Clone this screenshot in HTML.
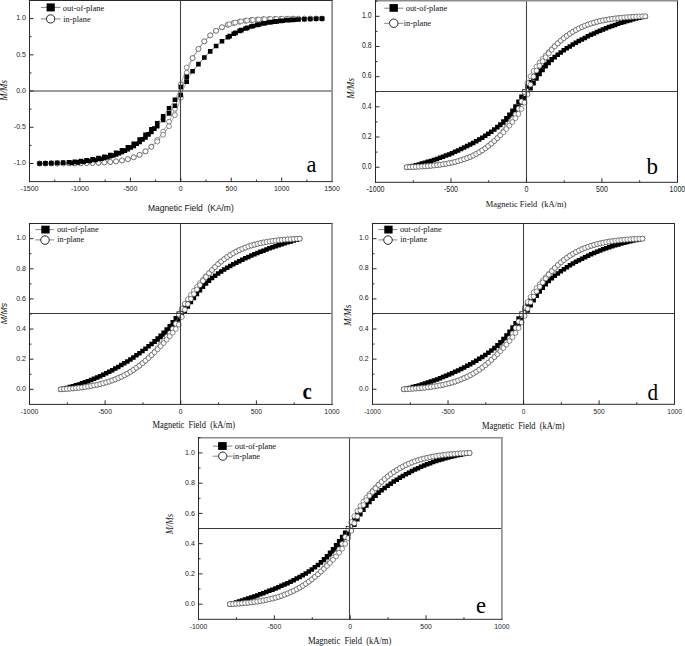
<!DOCTYPE html>
<html><head><meta charset="utf-8"><style>
html,body{margin:0;padding:0;background:#fff;}
svg{display:block;}
</style></head><body>
<svg width="685" height="646" viewBox="0 0 685 646">
<rect width="685" height="646" fill="#fff"/>
<polyline points="39.59,163.49 45.47,163.48 51.35,163.47 57.24,163.45 63.12,163.43 69.01,163.39 74.89,163.34 80.77,163.27 86.66,163.16 92.54,163.01 98.43,162.79 104.31,162.47 110.19,162.02 116.08,161.38 121.96,160.46 127.85,159.17 133.73,157.34 139.61,154.82 145.5,151.36 151.38,146.64 157.26,139.91 163.15,131.64 169.03,121.71 174.92,108.85 180.8,84.39 186.68,67.48 192.57,58.15 198.45,48.94 204.34,41.38 210.22,35.36 216.1,30.74 221.99,27.28 227.87,24.76 233.76,22.93 239.64,21.64 245.52,20.72 251.41,20.08 257.29,19.63 263.17,19.31 269.06,19.09 274.94,18.94 280.83,18.83 286.71,18.76 292.59,18.71 298.48,18.67 304.36,18.65 310.25,18.63 316.13,18.62 322.01,18.61" fill="none" stroke="#777" stroke-width="0.6"/>
<polyline points="39.59,163.49 45.47,163.48 51.35,163.47 57.24,163.45 63.12,163.43 69.01,163.39 74.89,163.34 80.77,163.27 86.66,163.16 92.54,163.01 98.43,162.79 104.31,162.47 110.19,162.02 116.08,161.38 121.96,160.46 127.85,159.17 133.73,157.34 139.61,154.82 145.5,151.36 151.38,146.84 157.26,141.53 163.15,134.68 169.03,126.19 174.92,115.07 180.8,97.71 186.68,72.8 192.57,58.15 198.45,48.94 204.34,41.38 210.22,35.36 216.1,30.74 221.99,27.28 227.87,24.76 233.76,22.93 239.64,21.64 245.52,20.72 251.41,20.08 257.29,19.63 263.17,19.31 269.06,19.09 274.94,18.94 280.83,18.83 286.71,18.76 292.59,18.71 298.48,18.67 304.36,18.65 310.25,18.63 316.13,18.62 322.01,18.61" fill="none" stroke="#777" stroke-width="0.6"/>
<polyline points="229.34,24.24 235.23,22.57 241.11,21.38 246.99,20.54 252.88,19.95 258.76,19.54 264.65,19.25 270.53,19.05 276.41,18.91 282.3,18.81 288.18,18.74 294.06,18.7" fill="none" stroke="#777" stroke-width="0.6"/>
<g fill="#fff" stroke="#4a4a4a" stroke-width="0.62"><circle cx="39.59" cy="163.49" r="2.45"/><circle cx="45.47" cy="163.48" r="2.45"/><circle cx="51.35" cy="163.47" r="2.45"/><circle cx="57.24" cy="163.45" r="2.45"/><circle cx="63.12" cy="163.43" r="2.45"/><circle cx="69.01" cy="163.39" r="2.45"/><circle cx="74.89" cy="163.34" r="2.45"/><circle cx="80.77" cy="163.27" r="2.45"/><circle cx="86.66" cy="163.16" r="2.45"/><circle cx="92.54" cy="163.01" r="2.45"/><circle cx="98.43" cy="162.79" r="2.45"/><circle cx="104.31" cy="162.47" r="2.45"/><circle cx="110.19" cy="162.02" r="2.45"/><circle cx="116.08" cy="161.38" r="2.45"/><circle cx="121.96" cy="160.46" r="2.45"/><circle cx="127.85" cy="159.17" r="2.45"/><circle cx="133.73" cy="157.34" r="2.45"/><circle cx="139.61" cy="154.82" r="2.45"/><circle cx="145.5" cy="151.36" r="2.45"/><circle cx="151.38" cy="146.64" r="2.45"/><circle cx="157.26" cy="139.91" r="2.45"/><circle cx="163.15" cy="131.64" r="2.45"/><circle cx="169.03" cy="121.71" r="2.45"/><circle cx="174.92" cy="108.85" r="2.45"/><circle cx="180.8" cy="84.39" r="2.45"/><circle cx="186.68" cy="67.48" r="2.45"/><circle cx="192.57" cy="58.15" r="2.45"/><circle cx="198.45" cy="48.94" r="2.45"/><circle cx="204.34" cy="41.38" r="2.45"/><circle cx="210.22" cy="35.36" r="2.45"/><circle cx="216.1" cy="30.74" r="2.45"/><circle cx="221.99" cy="27.28" r="2.45"/><circle cx="227.87" cy="24.76" r="2.45"/><circle cx="233.76" cy="22.93" r="2.45"/><circle cx="239.64" cy="21.64" r="2.45"/><circle cx="245.52" cy="20.72" r="2.45"/><circle cx="251.41" cy="20.08" r="2.45"/><circle cx="257.29" cy="19.63" r="2.45"/><circle cx="263.17" cy="19.31" r="2.45"/><circle cx="269.06" cy="19.09" r="2.45"/><circle cx="274.94" cy="18.94" r="2.45"/><circle cx="280.83" cy="18.83" r="2.45"/><circle cx="286.71" cy="18.76" r="2.45"/><circle cx="292.59" cy="18.71" r="2.45"/><circle cx="298.48" cy="18.67" r="2.45"/><circle cx="304.36" cy="18.65" r="2.45"/><circle cx="310.25" cy="18.63" r="2.45"/><circle cx="316.13" cy="18.62" r="2.45"/><circle cx="322.01" cy="18.61" r="2.45"/><circle cx="39.59" cy="163.49" r="2.45"/><circle cx="45.47" cy="163.48" r="2.45"/><circle cx="51.35" cy="163.47" r="2.45"/><circle cx="57.24" cy="163.45" r="2.45"/><circle cx="63.12" cy="163.43" r="2.45"/><circle cx="69.01" cy="163.39" r="2.45"/><circle cx="74.89" cy="163.34" r="2.45"/><circle cx="80.77" cy="163.27" r="2.45"/><circle cx="86.66" cy="163.16" r="2.45"/><circle cx="92.54" cy="163.01" r="2.45"/><circle cx="98.43" cy="162.79" r="2.45"/><circle cx="104.31" cy="162.47" r="2.45"/><circle cx="110.19" cy="162.02" r="2.45"/><circle cx="116.08" cy="161.38" r="2.45"/><circle cx="121.96" cy="160.46" r="2.45"/><circle cx="127.85" cy="159.17" r="2.45"/><circle cx="133.73" cy="157.34" r="2.45"/><circle cx="139.61" cy="154.82" r="2.45"/><circle cx="145.5" cy="151.36" r="2.45"/><circle cx="151.38" cy="146.84" r="2.45"/><circle cx="157.26" cy="141.53" r="2.45"/><circle cx="163.15" cy="134.68" r="2.45"/><circle cx="169.03" cy="126.19" r="2.45"/><circle cx="174.92" cy="115.07" r="2.45"/><circle cx="180.8" cy="97.71" r="2.45"/><circle cx="186.68" cy="72.8" r="2.45"/><circle cx="192.57" cy="58.15" r="2.45"/><circle cx="198.45" cy="48.94" r="2.45"/><circle cx="204.34" cy="41.38" r="2.45"/><circle cx="210.22" cy="35.36" r="2.45"/><circle cx="216.1" cy="30.74" r="2.45"/><circle cx="221.99" cy="27.28" r="2.45"/><circle cx="227.87" cy="24.76" r="2.45"/><circle cx="233.76" cy="22.93" r="2.45"/><circle cx="239.64" cy="21.64" r="2.45"/><circle cx="245.52" cy="20.72" r="2.45"/><circle cx="251.41" cy="20.08" r="2.45"/><circle cx="257.29" cy="19.63" r="2.45"/><circle cx="263.17" cy="19.31" r="2.45"/><circle cx="269.06" cy="19.09" r="2.45"/><circle cx="274.94" cy="18.94" r="2.45"/><circle cx="280.83" cy="18.83" r="2.45"/><circle cx="286.71" cy="18.76" r="2.45"/><circle cx="292.59" cy="18.71" r="2.45"/><circle cx="298.48" cy="18.67" r="2.45"/><circle cx="304.36" cy="18.65" r="2.45"/><circle cx="310.25" cy="18.63" r="2.45"/><circle cx="316.13" cy="18.62" r="2.45"/><circle cx="322.01" cy="18.61" r="2.45"/><circle cx="229.34" cy="24.24" r="2.45"/><circle cx="235.23" cy="22.57" r="2.45"/><circle cx="241.11" cy="21.38" r="2.45"/><circle cx="246.99" cy="20.54" r="2.45"/><circle cx="252.88" cy="19.95" r="2.45"/><circle cx="258.76" cy="19.54" r="2.45"/><circle cx="264.65" cy="19.25" r="2.45"/><circle cx="270.53" cy="19.05" r="2.45"/><circle cx="276.41" cy="18.91" r="2.45"/><circle cx="282.3" cy="18.81" r="2.45"/><circle cx="288.18" cy="18.74" r="2.45"/><circle cx="294.06" cy="18.7" r="2.45"/></g>
<polyline points="39.59,163.49 45.47,163.34 51.35,163.15 57.24,162.92 63.12,162.62 69.01,162.25 74.89,161.8 80.77,161.12 86.66,160.3 92.54,159.32 98.43,158.13 104.31,156.69 110.19,154.95 116.08,152.85 121.96,150.33 127.85,147.32 133.73,143.78 139.61,139.62 145.5,134.82 151.38,129.35 157.26,123.21 163.15,116.2 169.03,108.27 174.92,99.74 180.8,87.07 186.68,76.86 192.57,71.26 198.45,64.08 204.34,57.43 210.22,51.39 216.1,46.02 221.99,41.31 227.87,37.26 233.76,33.81 239.64,30.91 245.52,28.5 251.41,26.51 257.29,24.87 263.17,23.54 269.06,22.46 274.94,21.58 280.83,20.87 286.71,20.3 292.59,19.85 298.48,19.48 304.36,19.18 310.25,18.95 316.13,18.76 322.01,18.61" fill="none" stroke="#777" stroke-width="0.6"/>
<polyline points="39.59,163.49 45.47,163.34 51.35,163.15 57.24,162.92 63.12,162.62 69.01,162.25 74.89,161.8 80.77,161.33 86.66,160.73 92.54,159.97 98.43,158.99 104.31,157.76 110.19,156.24 116.08,154.35 121.96,152.05 127.85,149.26 133.73,145.91 139.61,141.95 145.5,137.34 151.38,132.06 157.26,126.13 163.15,119.85 169.03,113.41 174.92,105.82 180.8,95.03 186.68,81.78 192.57,71.26 198.45,64.08 204.34,57.43 210.22,51.39 216.1,46.02 221.99,41.31 227.87,37.26 233.76,33.81 239.64,30.91 245.52,28.5 251.41,26.51 257.29,24.87 263.17,23.54 269.06,22.46 274.94,21.58 280.83,20.87 286.71,20.3 292.59,19.85 298.48,19.48 304.36,19.18 310.25,18.95 316.13,18.76 322.01,18.61" fill="none" stroke="#777" stroke-width="0.6"/>
<polyline points="71.95,162.91 77.83,162.4 83.72,161.76 89.6,160.97 95.48,160 101.37,158.8 107.25,157.32 113.14,155.51 119.02,153.32 124.9,150.67 130.79,147.51 136.67,143.76 142.55,139.39 148.44,134.35 154.32,128.64" fill="none" stroke="#777" stroke-width="0.6"/>
<polyline points="229.64,36.16 235.52,32.88 241.4,30.14 247.29,27.86 253.17,25.98 259.06,24.44 264.94,23.19 270.82,22.17 276.71,21.35 282.59,20.69 288.48,20.16 294.36,19.73" fill="none" stroke="#777" stroke-width="0.6"/>
<path d="M37.29 161.19h4.6v4.6h-4.6zM43.17 161.04h4.6v4.6h-4.6zM49.05 160.85h4.6v4.6h-4.6zM54.94 160.62h4.6v4.6h-4.6zM60.82 160.32h4.6v4.6h-4.6zM66.71 159.95h4.6v4.6h-4.6zM72.59 159.5h4.6v4.6h-4.6zM78.47 158.82h4.6v4.6h-4.6zM84.36 158h4.6v4.6h-4.6zM90.24 157.02h4.6v4.6h-4.6zM96.13 155.83h4.6v4.6h-4.6zM102.01 154.39h4.6v4.6h-4.6zM107.89 152.65h4.6v4.6h-4.6zM113.78 150.55h4.6v4.6h-4.6zM119.66 148.03h4.6v4.6h-4.6zM125.55 145.02h4.6v4.6h-4.6zM131.43 141.48h4.6v4.6h-4.6zM137.31 137.32h4.6v4.6h-4.6zM143.2 132.52h4.6v4.6h-4.6zM149.08 127.05h4.6v4.6h-4.6zM154.96 120.91h4.6v4.6h-4.6zM160.85 113.9h4.6v4.6h-4.6zM166.73 105.97h4.6v4.6h-4.6zM172.62 97.44h4.6v4.6h-4.6zM178.5 84.77h4.6v4.6h-4.6zM184.38 74.56h4.6v4.6h-4.6zM190.27 68.96h4.6v4.6h-4.6zM196.15 61.78h4.6v4.6h-4.6zM202.04 55.13h4.6v4.6h-4.6zM207.92 49.09h4.6v4.6h-4.6zM213.8 43.72h4.6v4.6h-4.6zM219.69 39.01h4.6v4.6h-4.6zM225.57 34.96h4.6v4.6h-4.6zM231.46 31.51h4.6v4.6h-4.6zM237.34 28.61h4.6v4.6h-4.6zM243.22 26.2h4.6v4.6h-4.6zM249.11 24.21h4.6v4.6h-4.6zM254.99 22.57h4.6v4.6h-4.6zM260.87 21.24h4.6v4.6h-4.6zM266.76 20.16h4.6v4.6h-4.6zM272.64 19.28h4.6v4.6h-4.6zM278.53 18.57h4.6v4.6h-4.6zM284.41 18h4.6v4.6h-4.6zM290.29 17.55h4.6v4.6h-4.6zM296.18 17.18h4.6v4.6h-4.6zM302.06 16.88h4.6v4.6h-4.6zM307.95 16.65h4.6v4.6h-4.6zM313.83 16.46h4.6v4.6h-4.6zM319.71 16.31h4.6v4.6h-4.6zM37.29 161.19h4.6v4.6h-4.6zM43.17 161.04h4.6v4.6h-4.6zM49.05 160.85h4.6v4.6h-4.6zM54.94 160.62h4.6v4.6h-4.6zM60.82 160.32h4.6v4.6h-4.6zM66.71 159.95h4.6v4.6h-4.6zM72.59 159.5h4.6v4.6h-4.6zM78.47 159.03h4.6v4.6h-4.6zM84.36 158.43h4.6v4.6h-4.6zM90.24 157.67h4.6v4.6h-4.6zM96.13 156.69h4.6v4.6h-4.6zM102.01 155.46h4.6v4.6h-4.6zM107.89 153.94h4.6v4.6h-4.6zM113.78 152.05h4.6v4.6h-4.6zM119.66 149.75h4.6v4.6h-4.6zM125.55 146.96h4.6v4.6h-4.6zM131.43 143.61h4.6v4.6h-4.6zM137.31 139.65h4.6v4.6h-4.6zM143.2 135.04h4.6v4.6h-4.6zM149.08 129.76h4.6v4.6h-4.6zM154.96 123.83h4.6v4.6h-4.6zM160.85 117.55h4.6v4.6h-4.6zM166.73 111.11h4.6v4.6h-4.6zM172.62 103.52h4.6v4.6h-4.6zM178.5 92.73h4.6v4.6h-4.6zM184.38 79.48h4.6v4.6h-4.6zM190.27 68.96h4.6v4.6h-4.6zM196.15 61.78h4.6v4.6h-4.6zM202.04 55.13h4.6v4.6h-4.6zM207.92 49.09h4.6v4.6h-4.6zM213.8 43.72h4.6v4.6h-4.6zM219.69 39.01h4.6v4.6h-4.6zM225.57 34.96h4.6v4.6h-4.6zM231.46 31.51h4.6v4.6h-4.6zM237.34 28.61h4.6v4.6h-4.6zM243.22 26.2h4.6v4.6h-4.6zM249.11 24.21h4.6v4.6h-4.6zM254.99 22.57h4.6v4.6h-4.6zM260.87 21.24h4.6v4.6h-4.6zM266.76 20.16h4.6v4.6h-4.6zM272.64 19.28h4.6v4.6h-4.6zM278.53 18.57h4.6v4.6h-4.6zM284.41 18h4.6v4.6h-4.6zM290.29 17.55h4.6v4.6h-4.6zM296.18 17.18h4.6v4.6h-4.6zM302.06 16.88h4.6v4.6h-4.6zM307.95 16.65h4.6v4.6h-4.6zM313.83 16.46h4.6v4.6h-4.6zM319.71 16.31h4.6v4.6h-4.6zM69.65 160.61h4.6v4.6h-4.6zM75.53 160.1h4.6v4.6h-4.6zM81.42 159.46h4.6v4.6h-4.6zM87.3 158.67h4.6v4.6h-4.6zM93.18 157.7h4.6v4.6h-4.6zM99.07 156.5h4.6v4.6h-4.6zM104.95 155.02h4.6v4.6h-4.6zM110.84 153.21h4.6v4.6h-4.6zM116.72 151.02h4.6v4.6h-4.6zM122.6 148.37h4.6v4.6h-4.6zM128.49 145.21h4.6v4.6h-4.6zM134.37 141.46h4.6v4.6h-4.6zM140.25 137.09h4.6v4.6h-4.6zM146.14 132.05h4.6v4.6h-4.6zM152.02 126.34h4.6v4.6h-4.6zM227.34 33.86h4.6v4.6h-4.6zM233.22 30.58h4.6v4.6h-4.6zM239.1 27.84h4.6v4.6h-4.6zM244.99 25.56h4.6v4.6h-4.6zM250.87 23.68h4.6v4.6h-4.6zM256.76 22.14h4.6v4.6h-4.6zM262.64 20.89h4.6v4.6h-4.6zM268.52 19.87h4.6v4.6h-4.6zM274.41 19.05h4.6v4.6h-4.6zM280.29 18.39h4.6v4.6h-4.6zM286.18 17.86h4.6v4.6h-4.6zM292.06 17.43h4.6v4.6h-4.6z" fill="#000"/>
<line x1="29.5" y1="91" x2="332.1" y2="91" stroke="#3a3a3a" stroke-width="1"/>
<line x1="180.5" y1="0.5" x2="180.5" y2="181.6" stroke="#444" stroke-width="1.1"/>
<line x1="28.9" y1="0.5" x2="332.95" y2="0.5" stroke="#2a2a2a" stroke-width="1.0"/>
<line x1="332.1" y1="0.5" x2="332.1" y2="181.6" stroke="#8c8c8c" stroke-width="1.7"/>
<line x1="29.5" y1="0" x2="29.5" y2="182.1" stroke="#2a2a2a" stroke-width="1.0"/>
<line x1="29" y1="181.6" x2="332.95" y2="181.6" stroke="#2a2a2a" stroke-width="1.0"/>
<text x="0" y="0" text-anchor="middle" font-family='"Liberation Sans", sans-serif' font-size="7.8" fill="#222" transform="translate(29.5 190.99) scale(0.9 1)">-1500</text>
<text x="0" y="0" text-anchor="middle" font-family='"Liberation Sans", sans-serif' font-size="7.8" fill="#222" transform="translate(79.93 190.99) scale(0.9 1)">-1000</text>
<text x="0" y="0" text-anchor="middle" font-family='"Liberation Sans", sans-serif' font-size="7.8" fill="#222" transform="translate(130.37 190.99) scale(0.9 1)">-500</text>
<text x="0" y="0" text-anchor="middle" font-family='"Liberation Sans", sans-serif' font-size="7.8" fill="#222" transform="translate(180.8 190.99) scale(0.9 1)">0</text>
<text x="0" y="0" text-anchor="middle" font-family='"Liberation Sans", sans-serif' font-size="7.8" fill="#222" transform="translate(231.23 190.99) scale(0.9 1)">500</text>
<text x="0" y="0" text-anchor="middle" font-family='"Liberation Sans", sans-serif' font-size="7.8" fill="#222" transform="translate(281.67 190.99) scale(0.9 1)">1000</text>
<text x="0" y="0" text-anchor="middle" font-family='"Liberation Sans", sans-serif' font-size="7.8" fill="#222" transform="translate(332.1 190.99) scale(0.9 1)">1500</text>
<text x="0" y="0" text-anchor="end" font-family='"Liberation Sans", sans-serif' font-size="7.4" fill="#222" transform="translate(25.9 165.24) scale(0.95 1)">-1.0</text>
<text x="0" y="0" text-anchor="end" font-family='"Liberation Sans", sans-serif' font-size="7.4" fill="#222" transform="translate(25.9 129.02) scale(0.95 1)">-0.5</text>
<text x="0" y="0" text-anchor="end" font-family='"Liberation Sans", sans-serif' font-size="7.4" fill="#222" transform="translate(25.9 92.8) scale(0.95 1)">0.0</text>
<text x="0" y="0" text-anchor="end" font-family='"Liberation Sans", sans-serif' font-size="7.4" fill="#222" transform="translate(25.9 56.58) scale(0.95 1)">0.5</text>
<text x="0" y="0" text-anchor="end" font-family='"Liberation Sans", sans-serif' font-size="7.4" fill="#222" transform="translate(25.9 20.36) scale(0.95 1)">1.0</text>
<path d="M54.72 181.6v-2M79.93 181.6v-4M105.15 181.6v-2M130.37 181.6v-4M155.58 181.6v-2M180.8 181.6v-4M206.02 181.6v-2M231.23 181.6v-4M256.45 181.6v-2M281.67 181.6v-4M306.88 181.6v-2M29.5 163.49h4M29.5 145.38h2M29.5 127.27h4M29.5 109.16h2M29.5 91.05h4M29.5 72.94h2M29.5 54.83h4M29.5 36.72h2M29.5 18.61h4" stroke="#2a2a2a" stroke-width="1" fill="none"/>
<path d="M40.9 7.4H60.6M40.9 18.9H60.6" stroke="#666" stroke-width="0.8"/>
<rect x="46.6" y="3.4" width="8.2" height="8" fill="#000"/>
<circle cx="50.6" cy="18.9" r="4.05" fill="#fff" stroke="#111" stroke-width="0.9"/>
<text x="62.8" y="10.5" font-family='"Liberation Serif", serif' font-size="8.5" fill="#111" textLength="41.5" lengthAdjust="spacingAndGlyphs">out-of-plane</text>
<text x="63.3" y="22.1" font-family='"Liberation Serif", serif' font-size="8.5" fill="#111" textLength="27.4" lengthAdjust="spacingAndGlyphs">in-plane</text>
<text x="148" y="210.7" font-family='"Liberation Sans", sans-serif' font-size="9.2" fill="#111" textLength="85.7" lengthAdjust="spacingAndGlyphs">Magnetic Field&#160;&#160;(KA/m)</text>
<text transform="translate(3.6 90.4) rotate(-90)" x="-10.4" y="0" dominant-baseline="central" font-family='"Liberation Serif", serif' font-style="italic" font-size="9.4" fill="#111" textLength="20.8" lengthAdjust="spacingAndGlyphs">M/Ms</text>
<text x="0" y="0" transform="translate(306.5 171.9) scale(1 1)" font-family='"Liberation Serif", serif' font-size="22.5"  fill="#000">a</text>
<polyline points="406.75,167.21 409.77,166.64 412.78,165.94 415.8,165.2 418.82,164.42 421.84,163.61 424.86,162.76 427.88,161.87 430.9,160.94 433.92,159.96 436.94,158.94 439.96,157.87 442.97,156.76 445.99,155.6 449.01,154.39 452.03,153.14 455.05,151.83 458.07,150.47 461.09,149.06 464.11,147.6 467.13,146.09 470.15,144.51 473.16,142.89 476.18,141.2 479.2,139.45 482.22,137.63 485.24,135.73 488.26,133.75 491.28,131.68 494.3,129.49 497.32,127.1 500.34,124.41 503.35,121.48 506.37,118.26 509.39,114.7 512.41,110.76 515.43,106.42 518.45,101.7 521.47,96.68 524.49,91.5 527.51,86.58 530.53,82.26 533.54,78.15 536.56,74.31 539.58,70.76 542.6,67.51 545.62,64.54 548.64,61.81 551.66,59.29 554.68,56.95 557.7,54.69 560.72,52.47 563.73,50.36 566.75,48.35 569.77,46.43 572.79,44.59 575.81,42.82 578.83,41.11 581.85,39.47 584.87,37.88 587.89,36.35 590.91,34.87 593.92,33.44 596.94,32.07 599.96,30.75 602.98,29.48 606,28.26 609.02,27.08 612.04,25.96 615.06,24.88 618.08,23.84 621.1,22.85 624.11,21.91 627.13,21 630.15,20.14 633.17,19.32 636.19,18.53 639.21,17.78 642.23,17.07 645.25,16.39" fill="none" stroke="#777" stroke-width="0.6"/>
<polyline points="406.75,167.21 409.77,166.64 412.78,165.94 415.8,165.2 418.82,164.42 421.84,163.61 424.86,162.76 427.88,161.87 430.9,160.94 433.92,159.96 436.94,158.94 439.96,157.87 442.97,156.76 445.99,155.6 449.01,154.39 452.03,153.14 455.05,151.83 458.07,150.47 461.09,149.06 464.11,147.6 467.13,146.09 470.15,144.51 473.16,142.89 476.18,141.2 479.2,139.45 482.22,137.63 485.24,135.73 488.26,133.75 491.28,131.68 494.3,129.49 497.32,127.22 500.34,124.93 503.35,122.47 506.37,119.8 509.39,116.91 512.41,113.74 515.43,110.29 518.45,106.54 521.47,102.5 524.49,98.23 527.51,93.56 530.53,88.36 533.54,83.28 536.56,78.46 539.58,74 542.6,69.94 545.62,66.27 548.64,62.96 551.66,59.95 554.68,57.19 557.7,54.69 560.72,52.47 563.73,50.36 566.75,48.35 569.77,46.43 572.79,44.59 575.81,42.82 578.83,41.11 581.85,39.47 584.87,37.88 587.89,36.35 590.91,34.87 593.92,33.44 596.94,32.07 599.96,30.75 602.98,29.48 606,28.26 609.02,27.08 612.04,25.96 615.06,24.88 618.08,23.84 621.1,22.85 624.11,21.91 627.13,21 630.15,20.14 633.17,19.32 636.19,18.53 639.21,17.78 642.23,17.07 645.25,16.39" fill="none" stroke="#777" stroke-width="0.6"/>
<path d="M404.5 164.96h4.5v4.5h-4.5zM407.52 164.39h4.5v4.5h-4.5zM410.53 163.69h4.5v4.5h-4.5zM413.55 162.95h4.5v4.5h-4.5zM416.57 162.17h4.5v4.5h-4.5zM419.59 161.36h4.5v4.5h-4.5zM422.61 160.51h4.5v4.5h-4.5zM425.63 159.62h4.5v4.5h-4.5zM428.65 158.69h4.5v4.5h-4.5zM431.67 157.71h4.5v4.5h-4.5zM434.69 156.69h4.5v4.5h-4.5zM437.71 155.62h4.5v4.5h-4.5zM440.72 154.51h4.5v4.5h-4.5zM443.74 153.35h4.5v4.5h-4.5zM446.76 152.14h4.5v4.5h-4.5zM449.78 150.89h4.5v4.5h-4.5zM452.8 149.58h4.5v4.5h-4.5zM455.82 148.22h4.5v4.5h-4.5zM458.84 146.81h4.5v4.5h-4.5zM461.86 145.35h4.5v4.5h-4.5zM464.88 143.84h4.5v4.5h-4.5zM467.9 142.26h4.5v4.5h-4.5zM470.91 140.64h4.5v4.5h-4.5zM473.93 138.95h4.5v4.5h-4.5zM476.95 137.2h4.5v4.5h-4.5zM479.97 135.38h4.5v4.5h-4.5zM482.99 133.48h4.5v4.5h-4.5zM486.01 131.5h4.5v4.5h-4.5zM489.03 129.43h4.5v4.5h-4.5zM492.05 127.24h4.5v4.5h-4.5zM495.07 124.85h4.5v4.5h-4.5zM498.09 122.16h4.5v4.5h-4.5zM501.1 119.23h4.5v4.5h-4.5zM504.12 116.01h4.5v4.5h-4.5zM507.14 112.45h4.5v4.5h-4.5zM510.16 108.51h4.5v4.5h-4.5zM513.18 104.17h4.5v4.5h-4.5zM516.2 99.45h4.5v4.5h-4.5zM519.22 94.43h4.5v4.5h-4.5zM522.24 89.25h4.5v4.5h-4.5zM525.26 84.33h4.5v4.5h-4.5zM528.28 80.01h4.5v4.5h-4.5zM531.29 75.9h4.5v4.5h-4.5zM534.31 72.06h4.5v4.5h-4.5zM537.33 68.51h4.5v4.5h-4.5zM540.35 65.26h4.5v4.5h-4.5zM543.37 62.29h4.5v4.5h-4.5zM546.39 59.56h4.5v4.5h-4.5zM549.41 57.04h4.5v4.5h-4.5zM552.43 54.7h4.5v4.5h-4.5zM555.45 52.44h4.5v4.5h-4.5zM558.47 50.22h4.5v4.5h-4.5zM561.48 48.11h4.5v4.5h-4.5zM564.5 46.1h4.5v4.5h-4.5zM567.52 44.18h4.5v4.5h-4.5zM570.54 42.34h4.5v4.5h-4.5zM573.56 40.57h4.5v4.5h-4.5zM576.58 38.86h4.5v4.5h-4.5zM579.6 37.22h4.5v4.5h-4.5zM582.62 35.63h4.5v4.5h-4.5zM585.64 34.1h4.5v4.5h-4.5zM588.66 32.62h4.5v4.5h-4.5zM591.67 31.19h4.5v4.5h-4.5zM594.69 29.82h4.5v4.5h-4.5zM597.71 28.5h4.5v4.5h-4.5zM600.73 27.23h4.5v4.5h-4.5zM603.75 26.01h4.5v4.5h-4.5zM606.77 24.83h4.5v4.5h-4.5zM609.79 23.71h4.5v4.5h-4.5zM612.81 22.63h4.5v4.5h-4.5zM615.83 21.59h4.5v4.5h-4.5zM618.85 20.6h4.5v4.5h-4.5zM621.86 19.66h4.5v4.5h-4.5zM624.88 18.75h4.5v4.5h-4.5zM627.9 17.89h4.5v4.5h-4.5zM630.92 17.07h4.5v4.5h-4.5zM633.94 16.28h4.5v4.5h-4.5zM636.96 15.53h4.5v4.5h-4.5zM639.98 14.82h4.5v4.5h-4.5zM643 14.14h4.5v4.5h-4.5zM404.5 164.96h4.5v4.5h-4.5zM407.52 164.39h4.5v4.5h-4.5zM410.53 163.69h4.5v4.5h-4.5zM413.55 162.95h4.5v4.5h-4.5zM416.57 162.17h4.5v4.5h-4.5zM419.59 161.36h4.5v4.5h-4.5zM422.61 160.51h4.5v4.5h-4.5zM425.63 159.62h4.5v4.5h-4.5zM428.65 158.69h4.5v4.5h-4.5zM431.67 157.71h4.5v4.5h-4.5zM434.69 156.69h4.5v4.5h-4.5zM437.71 155.62h4.5v4.5h-4.5zM440.72 154.51h4.5v4.5h-4.5zM443.74 153.35h4.5v4.5h-4.5zM446.76 152.14h4.5v4.5h-4.5zM449.78 150.89h4.5v4.5h-4.5zM452.8 149.58h4.5v4.5h-4.5zM455.82 148.22h4.5v4.5h-4.5zM458.84 146.81h4.5v4.5h-4.5zM461.86 145.35h4.5v4.5h-4.5zM464.88 143.84h4.5v4.5h-4.5zM467.9 142.26h4.5v4.5h-4.5zM470.91 140.64h4.5v4.5h-4.5zM473.93 138.95h4.5v4.5h-4.5zM476.95 137.2h4.5v4.5h-4.5zM479.97 135.38h4.5v4.5h-4.5zM482.99 133.48h4.5v4.5h-4.5zM486.01 131.5h4.5v4.5h-4.5zM489.03 129.43h4.5v4.5h-4.5zM492.05 127.24h4.5v4.5h-4.5zM495.07 124.97h4.5v4.5h-4.5zM498.09 122.68h4.5v4.5h-4.5zM501.1 120.22h4.5v4.5h-4.5zM504.12 117.55h4.5v4.5h-4.5zM507.14 114.66h4.5v4.5h-4.5zM510.16 111.49h4.5v4.5h-4.5zM513.18 108.04h4.5v4.5h-4.5zM516.2 104.29h4.5v4.5h-4.5zM519.22 100.25h4.5v4.5h-4.5zM522.24 95.98h4.5v4.5h-4.5zM525.26 91.31h4.5v4.5h-4.5zM528.28 86.11h4.5v4.5h-4.5zM531.29 81.03h4.5v4.5h-4.5zM534.31 76.21h4.5v4.5h-4.5zM537.33 71.75h4.5v4.5h-4.5zM540.35 67.69h4.5v4.5h-4.5zM543.37 64.02h4.5v4.5h-4.5zM546.39 60.71h4.5v4.5h-4.5zM549.41 57.7h4.5v4.5h-4.5zM552.43 54.94h4.5v4.5h-4.5zM555.45 52.44h4.5v4.5h-4.5zM558.47 50.22h4.5v4.5h-4.5zM561.48 48.11h4.5v4.5h-4.5zM564.5 46.1h4.5v4.5h-4.5zM567.52 44.18h4.5v4.5h-4.5zM570.54 42.34h4.5v4.5h-4.5zM573.56 40.57h4.5v4.5h-4.5zM576.58 38.86h4.5v4.5h-4.5zM579.6 37.22h4.5v4.5h-4.5zM582.62 35.63h4.5v4.5h-4.5zM585.64 34.1h4.5v4.5h-4.5zM588.66 32.62h4.5v4.5h-4.5zM591.67 31.19h4.5v4.5h-4.5zM594.69 29.82h4.5v4.5h-4.5zM597.71 28.5h4.5v4.5h-4.5zM600.73 27.23h4.5v4.5h-4.5zM603.75 26.01h4.5v4.5h-4.5zM606.77 24.83h4.5v4.5h-4.5zM609.79 23.71h4.5v4.5h-4.5zM612.81 22.63h4.5v4.5h-4.5zM615.83 21.59h4.5v4.5h-4.5zM618.85 20.6h4.5v4.5h-4.5zM621.86 19.66h4.5v4.5h-4.5zM624.88 18.75h4.5v4.5h-4.5zM627.9 17.89h4.5v4.5h-4.5zM630.92 17.07h4.5v4.5h-4.5zM633.94 16.28h4.5v4.5h-4.5zM636.96 15.53h4.5v4.5h-4.5zM639.98 14.82h4.5v4.5h-4.5zM643 14.14h4.5v4.5h-4.5z" fill="#000"/>
<polyline points="406.75,167.21 409.77,167.11 412.78,166.99 415.8,166.84 418.82,166.68 421.84,166.49 424.86,166.28 427.88,166.05 430.9,165.78 433.92,165.47 436.94,165.13 439.96,164.74 442.97,164.3 445.99,163.81 449.01,163.25 452.03,162.62 455.05,161.91 458.07,161.12 461.09,160.23 464.11,159.23 467.13,158.11 470.15,156.87 473.16,155.49 476.18,153.95 479.2,152.26 482.22,150.38 485.24,148.33 488.26,146.08 491.28,143.63 494.3,140.97 497.32,138.03 500.34,134.74 503.35,131.22 506.37,127.46 509.39,123.46 512.41,119.17 515.43,114.44 518.45,108.81 521.47,101.47 524.49,92.14 527.51,83.07 530.53,76.29 533.54,70.98 536.56,66.56 539.58,62.62 542.6,58.95 545.62,55.48 548.64,52.2 551.66,49.09 554.68,46.17 557.7,43.37 560.72,40.65 563.73,38.14 566.75,35.83 569.77,33.71 572.79,31.79 575.81,30.04 578.83,28.46 581.85,27.03 584.87,25.74 587.89,24.59 590.91,23.56 593.92,22.64 596.94,21.82 599.96,21.08 602.98,20.43 606,19.85 609.02,19.34 612.04,18.88 615.06,18.48 618.08,18.12 621.1,17.81 624.11,17.53 627.13,17.28 630.15,17.07 633.17,16.87 636.19,16.7 639.21,16.56 642.23,16.42 645.25,16.31" fill="none" stroke="#777" stroke-width="0.6"/>
<polyline points="406.75,167.21 409.77,167.11 412.78,166.99 415.8,166.84 418.82,166.68 421.84,166.49 424.86,166.28 427.88,166.05 430.9,165.78 433.92,165.47 436.94,165.13 439.96,164.74 442.97,164.3 445.99,163.81 449.01,163.25 452.03,162.62 455.05,161.91 458.07,161.12 461.09,160.23 464.11,159.23 467.13,158.11 470.15,156.87 473.16,155.49 476.18,153.95 479.2,152.26 482.22,150.38 485.24,148.33 488.26,146.08 491.28,143.63 494.3,140.97 497.32,138.17 500.34,135.3 503.35,132.25 506.37,129.02 509.39,125.61 512.41,122.01 515.43,118.16 518.45,113.92 521.47,108.94 524.49,102.64 527.51,94.31 530.53,84.66 533.54,76.67 536.56,70.62 539.58,65.68 542.6,61.29 545.62,57.22 548.64,53.39 551.66,49.79 554.68,46.43 557.7,43.37 560.72,40.65 563.73,38.14 566.75,35.83 569.77,33.71 572.79,31.79 575.81,30.04 578.83,28.46 581.85,27.03 584.87,25.74 587.89,24.59 590.91,23.56 593.92,22.64 596.94,21.82 599.96,21.08 602.98,20.43 606,19.85 609.02,19.34 612.04,18.88 615.06,18.48 618.08,18.12 621.1,17.81 624.11,17.53 627.13,17.28 630.15,17.07 633.17,16.87 636.19,16.7 639.21,16.56 642.23,16.42 645.25,16.31" fill="none" stroke="#777" stroke-width="0.6"/>
<g fill="#fff" stroke="#4a4a4a" stroke-width="0.62"><circle cx="406.75" cy="167.21" r="2.45"/><circle cx="409.77" cy="167.11" r="2.45"/><circle cx="412.78" cy="166.99" r="2.45"/><circle cx="415.8" cy="166.84" r="2.45"/><circle cx="418.82" cy="166.68" r="2.45"/><circle cx="421.84" cy="166.49" r="2.45"/><circle cx="424.86" cy="166.28" r="2.45"/><circle cx="427.88" cy="166.05" r="2.45"/><circle cx="430.9" cy="165.78" r="2.45"/><circle cx="433.92" cy="165.47" r="2.45"/><circle cx="436.94" cy="165.13" r="2.45"/><circle cx="439.96" cy="164.74" r="2.45"/><circle cx="442.97" cy="164.3" r="2.45"/><circle cx="445.99" cy="163.81" r="2.45"/><circle cx="449.01" cy="163.25" r="2.45"/><circle cx="452.03" cy="162.62" r="2.45"/><circle cx="455.05" cy="161.91" r="2.45"/><circle cx="458.07" cy="161.12" r="2.45"/><circle cx="461.09" cy="160.23" r="2.45"/><circle cx="464.11" cy="159.23" r="2.45"/><circle cx="467.13" cy="158.11" r="2.45"/><circle cx="470.15" cy="156.87" r="2.45"/><circle cx="473.16" cy="155.49" r="2.45"/><circle cx="476.18" cy="153.95" r="2.45"/><circle cx="479.2" cy="152.26" r="2.45"/><circle cx="482.22" cy="150.38" r="2.45"/><circle cx="485.24" cy="148.33" r="2.45"/><circle cx="488.26" cy="146.08" r="2.45"/><circle cx="491.28" cy="143.63" r="2.45"/><circle cx="494.3" cy="140.97" r="2.45"/><circle cx="497.32" cy="138.03" r="2.45"/><circle cx="500.34" cy="134.74" r="2.45"/><circle cx="503.35" cy="131.22" r="2.45"/><circle cx="506.37" cy="127.46" r="2.45"/><circle cx="509.39" cy="123.46" r="2.45"/><circle cx="512.41" cy="119.17" r="2.45"/><circle cx="515.43" cy="114.44" r="2.45"/><circle cx="518.45" cy="108.81" r="2.45"/><circle cx="521.47" cy="101.47" r="2.45"/><circle cx="524.49" cy="92.14" r="2.45"/><circle cx="527.51" cy="83.07" r="2.45"/><circle cx="530.53" cy="76.29" r="2.45"/><circle cx="533.54" cy="70.98" r="2.45"/><circle cx="536.56" cy="66.56" r="2.45"/><circle cx="539.58" cy="62.62" r="2.45"/><circle cx="542.6" cy="58.95" r="2.45"/><circle cx="545.62" cy="55.48" r="2.45"/><circle cx="548.64" cy="52.2" r="2.45"/><circle cx="551.66" cy="49.09" r="2.45"/><circle cx="554.68" cy="46.17" r="2.45"/><circle cx="557.7" cy="43.37" r="2.45"/><circle cx="560.72" cy="40.65" r="2.45"/><circle cx="563.73" cy="38.14" r="2.45"/><circle cx="566.75" cy="35.83" r="2.45"/><circle cx="569.77" cy="33.71" r="2.45"/><circle cx="572.79" cy="31.79" r="2.45"/><circle cx="575.81" cy="30.04" r="2.45"/><circle cx="578.83" cy="28.46" r="2.45"/><circle cx="581.85" cy="27.03" r="2.45"/><circle cx="584.87" cy="25.74" r="2.45"/><circle cx="587.89" cy="24.59" r="2.45"/><circle cx="590.91" cy="23.56" r="2.45"/><circle cx="593.92" cy="22.64" r="2.45"/><circle cx="596.94" cy="21.82" r="2.45"/><circle cx="599.96" cy="21.08" r="2.45"/><circle cx="602.98" cy="20.43" r="2.45"/><circle cx="606" cy="19.85" r="2.45"/><circle cx="609.02" cy="19.34" r="2.45"/><circle cx="612.04" cy="18.88" r="2.45"/><circle cx="615.06" cy="18.48" r="2.45"/><circle cx="618.08" cy="18.12" r="2.45"/><circle cx="621.1" cy="17.81" r="2.45"/><circle cx="624.11" cy="17.53" r="2.45"/><circle cx="627.13" cy="17.28" r="2.45"/><circle cx="630.15" cy="17.07" r="2.45"/><circle cx="633.17" cy="16.87" r="2.45"/><circle cx="636.19" cy="16.7" r="2.45"/><circle cx="639.21" cy="16.56" r="2.45"/><circle cx="642.23" cy="16.42" r="2.45"/><circle cx="645.25" cy="16.31" r="2.45"/><circle cx="406.75" cy="167.21" r="2.45"/><circle cx="409.77" cy="167.11" r="2.45"/><circle cx="412.78" cy="166.99" r="2.45"/><circle cx="415.8" cy="166.84" r="2.45"/><circle cx="418.82" cy="166.68" r="2.45"/><circle cx="421.84" cy="166.49" r="2.45"/><circle cx="424.86" cy="166.28" r="2.45"/><circle cx="427.88" cy="166.05" r="2.45"/><circle cx="430.9" cy="165.78" r="2.45"/><circle cx="433.92" cy="165.47" r="2.45"/><circle cx="436.94" cy="165.13" r="2.45"/><circle cx="439.96" cy="164.74" r="2.45"/><circle cx="442.97" cy="164.3" r="2.45"/><circle cx="445.99" cy="163.81" r="2.45"/><circle cx="449.01" cy="163.25" r="2.45"/><circle cx="452.03" cy="162.62" r="2.45"/><circle cx="455.05" cy="161.91" r="2.45"/><circle cx="458.07" cy="161.12" r="2.45"/><circle cx="461.09" cy="160.23" r="2.45"/><circle cx="464.11" cy="159.23" r="2.45"/><circle cx="467.13" cy="158.11" r="2.45"/><circle cx="470.15" cy="156.87" r="2.45"/><circle cx="473.16" cy="155.49" r="2.45"/><circle cx="476.18" cy="153.95" r="2.45"/><circle cx="479.2" cy="152.26" r="2.45"/><circle cx="482.22" cy="150.38" r="2.45"/><circle cx="485.24" cy="148.33" r="2.45"/><circle cx="488.26" cy="146.08" r="2.45"/><circle cx="491.28" cy="143.63" r="2.45"/><circle cx="494.3" cy="140.97" r="2.45"/><circle cx="497.32" cy="138.17" r="2.45"/><circle cx="500.34" cy="135.3" r="2.45"/><circle cx="503.35" cy="132.25" r="2.45"/><circle cx="506.37" cy="129.02" r="2.45"/><circle cx="509.39" cy="125.61" r="2.45"/><circle cx="512.41" cy="122.01" r="2.45"/><circle cx="515.43" cy="118.16" r="2.45"/><circle cx="518.45" cy="113.92" r="2.45"/><circle cx="521.47" cy="108.94" r="2.45"/><circle cx="524.49" cy="102.64" r="2.45"/><circle cx="527.51" cy="94.31" r="2.45"/><circle cx="530.53" cy="84.66" r="2.45"/><circle cx="533.54" cy="76.67" r="2.45"/><circle cx="536.56" cy="70.62" r="2.45"/><circle cx="539.58" cy="65.68" r="2.45"/><circle cx="542.6" cy="61.29" r="2.45"/><circle cx="545.62" cy="57.22" r="2.45"/><circle cx="548.64" cy="53.39" r="2.45"/><circle cx="551.66" cy="49.79" r="2.45"/><circle cx="554.68" cy="46.43" r="2.45"/><circle cx="557.7" cy="43.37" r="2.45"/><circle cx="560.72" cy="40.65" r="2.45"/><circle cx="563.73" cy="38.14" r="2.45"/><circle cx="566.75" cy="35.83" r="2.45"/><circle cx="569.77" cy="33.71" r="2.45"/><circle cx="572.79" cy="31.79" r="2.45"/><circle cx="575.81" cy="30.04" r="2.45"/><circle cx="578.83" cy="28.46" r="2.45"/><circle cx="581.85" cy="27.03" r="2.45"/><circle cx="584.87" cy="25.74" r="2.45"/><circle cx="587.89" cy="24.59" r="2.45"/><circle cx="590.91" cy="23.56" r="2.45"/><circle cx="593.92" cy="22.64" r="2.45"/><circle cx="596.94" cy="21.82" r="2.45"/><circle cx="599.96" cy="21.08" r="2.45"/><circle cx="602.98" cy="20.43" r="2.45"/><circle cx="606" cy="19.85" r="2.45"/><circle cx="609.02" cy="19.34" r="2.45"/><circle cx="612.04" cy="18.88" r="2.45"/><circle cx="615.06" cy="18.48" r="2.45"/><circle cx="618.08" cy="18.12" r="2.45"/><circle cx="621.1" cy="17.81" r="2.45"/><circle cx="624.11" cy="17.53" r="2.45"/><circle cx="627.13" cy="17.28" r="2.45"/><circle cx="630.15" cy="17.07" r="2.45"/><circle cx="633.17" cy="16.87" r="2.45"/><circle cx="636.19" cy="16.7" r="2.45"/><circle cx="639.21" cy="16.56" r="2.45"/><circle cx="642.23" cy="16.42" r="2.45"/><circle cx="645.25" cy="16.31" r="2.45"/></g>
<line x1="375.5" y1="91.5" x2="677.4" y2="91.5" stroke="#3a3a3a" stroke-width="1"/>
<line x1="526.5" y1="1.2" x2="526.5" y2="182.3" stroke="#444" stroke-width="1.1"/>
<line x1="374.9" y1="0.8" x2="678" y2="0.8" stroke="#8c8c8c" stroke-width="1.6"/>
<line x1="677.5" y1="0.8" x2="677.5" y2="182.3" stroke="#2a2a2a" stroke-width="1.0"/>
<line x1="375.5" y1="0" x2="375.5" y2="182.8" stroke="#2a2a2a" stroke-width="1.0"/>
<line x1="375" y1="182.3" x2="678" y2="182.3" stroke="#2a2a2a" stroke-width="1.0"/>
<text x="0" y="0" text-anchor="middle" font-family='"Liberation Sans", sans-serif' font-size="8.4" fill="#222" transform="translate(375.5 191.91) scale(0.84 1)">-1000</text>
<text x="0" y="0" text-anchor="middle" font-family='"Liberation Sans", sans-serif' font-size="8.4" fill="#222" transform="translate(450.98 191.91) scale(0.84 1)">-500</text>
<text x="0" y="0" text-anchor="middle" font-family='"Liberation Sans", sans-serif' font-size="8.4" fill="#222" transform="translate(526.45 191.91) scale(0.84 1)">0</text>
<text x="0" y="0" text-anchor="middle" font-family='"Liberation Sans", sans-serif' font-size="8.4" fill="#222" transform="translate(601.92 191.91) scale(0.84 1)">500</text>
<text x="0" y="0" text-anchor="middle" font-family='"Liberation Sans", sans-serif' font-size="8.4" fill="#222" transform="translate(677.4 191.91) scale(0.84 1)">1000</text>
<text x="0" y="0" text-anchor="end" font-family='"Liberation Sans", sans-serif' font-size="8.4" fill="#222" transform="translate(371.6 169.02) scale(0.82 1)">0.0</text>
<text x="0" y="0" text-anchor="end" font-family='"Liberation Sans", sans-serif' font-size="8.4" fill="#222" transform="translate(371.6 138.83) scale(0.82 1)">0.2</text>
<text x="0" y="0" text-anchor="end" font-family='"Liberation Sans", sans-serif' font-size="8.4" fill="#222" transform="translate(371.6 108.65) scale(0.82 1)">0.4</text>
<text x="0" y="0" text-anchor="end" font-family='"Liberation Sans", sans-serif' font-size="8.4" fill="#222" transform="translate(371.6 78.47) scale(0.82 1)">0.6</text>
<text x="0" y="0" text-anchor="end" font-family='"Liberation Sans", sans-serif' font-size="8.4" fill="#222" transform="translate(371.6 48.28) scale(0.82 1)">0.8</text>
<text x="0" y="0" text-anchor="end" font-family='"Liberation Sans", sans-serif' font-size="8.4" fill="#222" transform="translate(371.6 18.1) scale(0.82 1)">1.0</text>
<path d="M413.24 182.3v-2M450.98 182.3v-4M488.71 182.3v-2M526.45 182.3v-4M564.19 182.3v-2M601.92 182.3v-4M639.66 182.3v-2M375.5 167.21h4M375.5 152.12h2M375.5 137.03h4M375.5 121.93h2M375.5 106.84h4M375.5 91.75h2M375.5 76.66h4M375.5 61.57h2M375.5 46.48h4M375.5 31.38h2M375.5 16.29h4M375.5 1.2h2" stroke="#2a2a2a" stroke-width="1" fill="none"/>
<path d="M384.1 8.2H403.4M384.1 23.3H403.4" stroke="#666" stroke-width="0.8"/>
<rect x="389.5" y="4.1" width="8.4" height="7.7" fill="#000"/>
<circle cx="393.75" cy="23.25" r="4.25" fill="#fff" stroke="#111" stroke-width="0.9"/>
<text x="405.7" y="11" font-family='"Liberation Serif", serif' font-size="8.5" fill="#111" textLength="41.6" lengthAdjust="spacingAndGlyphs">out-of-plane</text>
<text x="403.7" y="26.2" font-family='"Liberation Serif", serif' font-size="8.5" fill="#111" textLength="27.4" lengthAdjust="spacingAndGlyphs">in-plane</text>
<text x="485.8" y="207" font-family='"Liberation Serif", serif' font-size="9.2" fill="#111" textLength="80.6" lengthAdjust="spacingAndGlyphs">Magnetic Field&#160;&#160;(kA/m)</text>
<text transform="translate(351.2 88.4) rotate(-90)" x="-10.4" y="0" dominant-baseline="central" font-family='"Liberation Serif", serif' font-style="italic" font-size="9.4" fill="#111" textLength="20.8" lengthAdjust="spacingAndGlyphs">M/Ms</text>
<text x="0" y="0" transform="translate(646.6 173.7) scale(1 1)" font-family='"Liberation Serif", serif' font-size="23.0"  fill="#000">b</text>
<polyline points="60.81,389.33 63.83,388.7 66.86,387.93 69.88,387.11 72.91,386.24 75.93,385.34 78.96,384.38 81.98,383.37 85.01,382.31 88.03,381.2 91.06,380.04 94.08,378.82 97.11,377.54 100.13,376.21 103.16,374.81 106.18,373.35 109.21,371.83 112.23,370.25 115.26,368.6 118.28,366.89 121.31,365.12 124.33,363.28 127.36,361.38 130.38,359.42 133.41,357.39 136.43,355.3 139.46,353.15 142.48,350.95 145.51,348.68 148.53,346.36 151.56,343.92 154.58,341.28 157.61,338.56 160.63,335.74 163.66,332.76 166.68,329.59 169.71,326.13 172.73,322.32 175.76,318.17 178.78,313.78 181.81,309.45 184.83,305.58 187.86,301.82 190.88,298.2 193.91,294.75 196.93,291.49 199.96,288.42 202.98,285.55 206.01,282.87 209.03,280.37 212.06,277.98 215.08,275.63 218.11,273.44 221.13,271.39 224.16,269.46 227.18,267.63 230.21,265.9 233.23,264.24 236.26,262.66 239.28,261.14 242.31,259.68 245.33,258.26 248.36,256.89 251.38,255.57 254.41,254.28 257.43,253.03 260.46,251.82 263.48,250.64 266.51,249.49 269.53,248.37 272.56,247.29 275.58,246.23 278.61,245.21 281.63,244.21 284.66,243.24 287.68,242.29 290.71,241.38 293.73,240.49 296.76,239.63 299.78,238.79" fill="none" stroke="#777" stroke-width="0.6"/>
<polyline points="60.81,389.33 63.83,388.7 66.86,387.93 69.88,387.11 72.91,386.24 75.93,385.34 78.96,384.38 81.98,383.37 85.01,382.31 88.03,381.2 91.06,380.04 94.08,378.82 97.11,377.54 100.13,376.21 103.16,374.81 106.18,373.35 109.21,371.83 112.23,370.25 115.26,368.6 118.28,366.89 121.31,365.12 124.33,363.28 127.36,361.38 130.38,359.42 133.41,357.39 136.43,355.3 139.46,353.15 142.48,350.95 145.51,348.68 148.53,346.36 151.56,344.04 154.58,341.79 157.61,339.47 160.63,337.07 163.66,334.59 166.68,331.98 169.71,329.21 172.73,326.22 175.76,322.98 178.78,319.47 181.81,315.53 184.83,311.02 187.86,306.5 190.88,302.11 193.91,297.91 196.93,293.93 199.96,290.21 202.98,286.76 206.01,283.57 209.03,280.63 212.06,277.98 215.08,275.63 218.11,273.44 221.13,271.39 224.16,269.46 227.18,267.63 230.21,265.9 233.23,264.24 236.26,262.66 239.28,261.14 242.31,259.68 245.33,258.26 248.36,256.89 251.38,255.57 254.41,254.28 257.43,253.03 260.46,251.82 263.48,250.64 266.51,249.49 269.53,248.37 272.56,247.29 275.58,246.23 278.61,245.21 281.63,244.21 284.66,243.24 287.68,242.29 290.71,241.38 293.73,240.49 296.76,239.63 299.78,238.79" fill="none" stroke="#777" stroke-width="0.6"/>
<path d="M58.56 387.08h4.5v4.5h-4.5zM61.58 386.45h4.5v4.5h-4.5zM64.61 385.68h4.5v4.5h-4.5zM67.63 384.86h4.5v4.5h-4.5zM70.66 383.99h4.5v4.5h-4.5zM73.68 383.09h4.5v4.5h-4.5zM76.71 382.13h4.5v4.5h-4.5zM79.73 381.12h4.5v4.5h-4.5zM82.76 380.06h4.5v4.5h-4.5zM85.78 378.95h4.5v4.5h-4.5zM88.81 377.79h4.5v4.5h-4.5zM91.83 376.57h4.5v4.5h-4.5zM94.86 375.29h4.5v4.5h-4.5zM97.88 373.96h4.5v4.5h-4.5zM100.91 372.56h4.5v4.5h-4.5zM103.93 371.1h4.5v4.5h-4.5zM106.96 369.58h4.5v4.5h-4.5zM109.98 368h4.5v4.5h-4.5zM113.01 366.35h4.5v4.5h-4.5zM116.03 364.64h4.5v4.5h-4.5zM119.06 362.87h4.5v4.5h-4.5zM122.08 361.03h4.5v4.5h-4.5zM125.11 359.13h4.5v4.5h-4.5zM128.13 357.17h4.5v4.5h-4.5zM131.16 355.14h4.5v4.5h-4.5zM134.18 353.05h4.5v4.5h-4.5zM137.21 350.9h4.5v4.5h-4.5zM140.23 348.7h4.5v4.5h-4.5zM143.26 346.43h4.5v4.5h-4.5zM146.28 344.11h4.5v4.5h-4.5zM149.31 341.67h4.5v4.5h-4.5zM152.33 339.03h4.5v4.5h-4.5zM155.36 336.31h4.5v4.5h-4.5zM158.38 333.49h4.5v4.5h-4.5zM161.41 330.51h4.5v4.5h-4.5zM164.43 327.34h4.5v4.5h-4.5zM167.46 323.88h4.5v4.5h-4.5zM170.48 320.07h4.5v4.5h-4.5zM173.51 315.92h4.5v4.5h-4.5zM176.53 311.53h4.5v4.5h-4.5zM179.56 307.2h4.5v4.5h-4.5zM182.58 303.33h4.5v4.5h-4.5zM185.61 299.57h4.5v4.5h-4.5zM188.63 295.95h4.5v4.5h-4.5zM191.66 292.5h4.5v4.5h-4.5zM194.68 289.24h4.5v4.5h-4.5zM197.71 286.17h4.5v4.5h-4.5zM200.73 283.3h4.5v4.5h-4.5zM203.76 280.62h4.5v4.5h-4.5zM206.78 278.12h4.5v4.5h-4.5zM209.81 275.73h4.5v4.5h-4.5zM212.83 273.38h4.5v4.5h-4.5zM215.86 271.19h4.5v4.5h-4.5zM218.88 269.14h4.5v4.5h-4.5zM221.91 267.21h4.5v4.5h-4.5zM224.93 265.38h4.5v4.5h-4.5zM227.96 263.65h4.5v4.5h-4.5zM230.98 261.99h4.5v4.5h-4.5zM234.01 260.41h4.5v4.5h-4.5zM237.03 258.89h4.5v4.5h-4.5zM240.06 257.43h4.5v4.5h-4.5zM243.08 256.01h4.5v4.5h-4.5zM246.11 254.64h4.5v4.5h-4.5zM249.13 253.32h4.5v4.5h-4.5zM252.16 252.03h4.5v4.5h-4.5zM255.18 250.78h4.5v4.5h-4.5zM258.21 249.57h4.5v4.5h-4.5zM261.23 248.39h4.5v4.5h-4.5zM264.26 247.24h4.5v4.5h-4.5zM267.28 246.12h4.5v4.5h-4.5zM270.31 245.04h4.5v4.5h-4.5zM273.33 243.98h4.5v4.5h-4.5zM276.36 242.96h4.5v4.5h-4.5zM279.38 241.96h4.5v4.5h-4.5zM282.41 240.99h4.5v4.5h-4.5zM285.43 240.04h4.5v4.5h-4.5zM288.46 239.13h4.5v4.5h-4.5zM291.48 238.24h4.5v4.5h-4.5zM294.51 237.38h4.5v4.5h-4.5zM297.53 236.54h4.5v4.5h-4.5zM58.56 387.08h4.5v4.5h-4.5zM61.58 386.45h4.5v4.5h-4.5zM64.61 385.68h4.5v4.5h-4.5zM67.63 384.86h4.5v4.5h-4.5zM70.66 383.99h4.5v4.5h-4.5zM73.68 383.09h4.5v4.5h-4.5zM76.71 382.13h4.5v4.5h-4.5zM79.73 381.12h4.5v4.5h-4.5zM82.76 380.06h4.5v4.5h-4.5zM85.78 378.95h4.5v4.5h-4.5zM88.81 377.79h4.5v4.5h-4.5zM91.83 376.57h4.5v4.5h-4.5zM94.86 375.29h4.5v4.5h-4.5zM97.88 373.96h4.5v4.5h-4.5zM100.91 372.56h4.5v4.5h-4.5zM103.93 371.1h4.5v4.5h-4.5zM106.96 369.58h4.5v4.5h-4.5zM109.98 368h4.5v4.5h-4.5zM113.01 366.35h4.5v4.5h-4.5zM116.03 364.64h4.5v4.5h-4.5zM119.06 362.87h4.5v4.5h-4.5zM122.08 361.03h4.5v4.5h-4.5zM125.11 359.13h4.5v4.5h-4.5zM128.13 357.17h4.5v4.5h-4.5zM131.16 355.14h4.5v4.5h-4.5zM134.18 353.05h4.5v4.5h-4.5zM137.21 350.9h4.5v4.5h-4.5zM140.23 348.7h4.5v4.5h-4.5zM143.26 346.43h4.5v4.5h-4.5zM146.28 344.11h4.5v4.5h-4.5zM149.31 341.79h4.5v4.5h-4.5zM152.33 339.54h4.5v4.5h-4.5zM155.36 337.22h4.5v4.5h-4.5zM158.38 334.82h4.5v4.5h-4.5zM161.41 332.34h4.5v4.5h-4.5zM164.43 329.73h4.5v4.5h-4.5zM167.46 326.96h4.5v4.5h-4.5zM170.48 323.97h4.5v4.5h-4.5zM173.51 320.73h4.5v4.5h-4.5zM176.53 317.22h4.5v4.5h-4.5zM179.56 313.28h4.5v4.5h-4.5zM182.58 308.77h4.5v4.5h-4.5zM185.61 304.25h4.5v4.5h-4.5zM188.63 299.86h4.5v4.5h-4.5zM191.66 295.66h4.5v4.5h-4.5zM194.68 291.68h4.5v4.5h-4.5zM197.71 287.96h4.5v4.5h-4.5zM200.73 284.51h4.5v4.5h-4.5zM203.76 281.32h4.5v4.5h-4.5zM206.78 278.38h4.5v4.5h-4.5zM209.81 275.73h4.5v4.5h-4.5zM212.83 273.38h4.5v4.5h-4.5zM215.86 271.19h4.5v4.5h-4.5zM218.88 269.14h4.5v4.5h-4.5zM221.91 267.21h4.5v4.5h-4.5zM224.93 265.38h4.5v4.5h-4.5zM227.96 263.65h4.5v4.5h-4.5zM230.98 261.99h4.5v4.5h-4.5zM234.01 260.41h4.5v4.5h-4.5zM237.03 258.89h4.5v4.5h-4.5zM240.06 257.43h4.5v4.5h-4.5zM243.08 256.01h4.5v4.5h-4.5zM246.11 254.64h4.5v4.5h-4.5zM249.13 253.32h4.5v4.5h-4.5zM252.16 252.03h4.5v4.5h-4.5zM255.18 250.78h4.5v4.5h-4.5zM258.21 249.57h4.5v4.5h-4.5zM261.23 248.39h4.5v4.5h-4.5zM264.26 247.24h4.5v4.5h-4.5zM267.28 246.12h4.5v4.5h-4.5zM270.31 245.04h4.5v4.5h-4.5zM273.33 243.98h4.5v4.5h-4.5zM276.36 242.96h4.5v4.5h-4.5zM279.38 241.96h4.5v4.5h-4.5zM282.41 240.99h4.5v4.5h-4.5zM285.43 240.04h4.5v4.5h-4.5zM288.46 239.13h4.5v4.5h-4.5zM291.48 238.24h4.5v4.5h-4.5zM294.51 237.38h4.5v4.5h-4.5zM297.53 236.54h4.5v4.5h-4.5z" fill="#000"/>
<polyline points="60.81,389.33 63.83,389.16 66.86,388.94 69.88,388.69 72.91,388.42 75.93,388.11 78.96,387.77 81.98,387.4 85.01,386.98 88.03,386.51 91.06,386 94.08,385.42 97.11,384.79 100.13,384.09 103.16,383.31 106.18,382.46 109.21,381.52 112.23,380.48 115.26,379.34 118.28,378.09 121.31,376.73 124.33,375.23 127.36,373.61 130.38,371.84 133.41,369.92 136.43,367.85 139.46,365.62 142.48,363.23 145.51,360.67 148.53,357.94 151.56,354.98 154.58,351.72 157.61,348.29 160.63,344.69 163.66,340.95 166.68,337.07 169.71,333.08 172.73,328.91 175.76,323.82 178.78,314.47 181.81,308.69 184.83,303.82 187.86,299.23 190.88,294.91 193.91,290.81 196.93,286.89 199.96,283.16 202.98,279.61 206.01,276.23 209.03,273.04 212.06,269.96 215.08,266.96 218.11,264.17 221.13,261.59 224.16,259.22 227.18,257.05 230.21,255.06 233.23,253.25 236.26,251.6 239.28,250.12 242.31,248.77 245.33,247.56 248.36,246.47 251.38,245.49 254.41,244.61 257.43,243.83 260.46,243.13 263.48,242.5 266.51,241.94 269.53,241.45 272.56,241 275.58,240.61 278.61,240.26 281.63,239.95 284.66,239.67 287.68,239.42 290.71,239.2 293.73,239.01 296.76,238.84 299.78,238.69" fill="none" stroke="#777" stroke-width="0.6"/>
<polyline points="60.81,389.33 63.83,389.16 66.86,388.94 69.88,388.69 72.91,388.42 75.93,388.11 78.96,387.77 81.98,387.4 85.01,386.98 88.03,386.51 91.06,386 94.08,385.42 97.11,384.79 100.13,384.09 103.16,383.31 106.18,382.46 109.21,381.52 112.23,380.48 115.26,379.34 118.28,378.09 121.31,376.73 124.33,375.23 127.36,373.61 130.38,371.84 133.41,369.92 136.43,367.85 139.46,365.62 142.48,363.23 145.51,360.67 148.53,357.94 151.56,355.12 154.58,352.27 157.61,349.29 160.63,346.18 163.66,342.96 166.68,339.62 169.71,336.19 172.73,332.66 175.76,329 178.78,324.69 181.81,317.01 184.83,309.71 187.86,304.12 190.88,298.9 193.91,294.01 196.93,289.4 199.96,285.03 202.98,280.9 206.01,276.99 209.03,273.32 212.06,269.96 215.08,266.96 218.11,264.17 221.13,261.59 224.16,259.22 227.18,257.05 230.21,255.06 233.23,253.25 236.26,251.6 239.28,250.12 242.31,248.77 245.33,247.56 248.36,246.47 251.38,245.49 254.41,244.61 257.43,243.83 260.46,243.13 263.48,242.5 266.51,241.94 269.53,241.45 272.56,241 275.58,240.61 278.61,240.26 281.63,239.95 284.66,239.67 287.68,239.42 290.71,239.2 293.73,239.01 296.76,238.84 299.78,238.69" fill="none" stroke="#777" stroke-width="0.6"/>
<g fill="#fff" stroke="#4a4a4a" stroke-width="0.62"><circle cx="60.81" cy="389.33" r="2.45"/><circle cx="63.83" cy="389.16" r="2.45"/><circle cx="66.86" cy="388.94" r="2.45"/><circle cx="69.88" cy="388.69" r="2.45"/><circle cx="72.91" cy="388.42" r="2.45"/><circle cx="75.93" cy="388.11" r="2.45"/><circle cx="78.96" cy="387.77" r="2.45"/><circle cx="81.98" cy="387.4" r="2.45"/><circle cx="85.01" cy="386.98" r="2.45"/><circle cx="88.03" cy="386.51" r="2.45"/><circle cx="91.06" cy="386" r="2.45"/><circle cx="94.08" cy="385.42" r="2.45"/><circle cx="97.11" cy="384.79" r="2.45"/><circle cx="100.13" cy="384.09" r="2.45"/><circle cx="103.16" cy="383.31" r="2.45"/><circle cx="106.18" cy="382.46" r="2.45"/><circle cx="109.21" cy="381.52" r="2.45"/><circle cx="112.23" cy="380.48" r="2.45"/><circle cx="115.26" cy="379.34" r="2.45"/><circle cx="118.28" cy="378.09" r="2.45"/><circle cx="121.31" cy="376.73" r="2.45"/><circle cx="124.33" cy="375.23" r="2.45"/><circle cx="127.36" cy="373.61" r="2.45"/><circle cx="130.38" cy="371.84" r="2.45"/><circle cx="133.41" cy="369.92" r="2.45"/><circle cx="136.43" cy="367.85" r="2.45"/><circle cx="139.46" cy="365.62" r="2.45"/><circle cx="142.48" cy="363.23" r="2.45"/><circle cx="145.51" cy="360.67" r="2.45"/><circle cx="148.53" cy="357.94" r="2.45"/><circle cx="151.56" cy="354.98" r="2.45"/><circle cx="154.58" cy="351.72" r="2.45"/><circle cx="157.61" cy="348.29" r="2.45"/><circle cx="160.63" cy="344.69" r="2.45"/><circle cx="163.66" cy="340.95" r="2.45"/><circle cx="166.68" cy="337.07" r="2.45"/><circle cx="169.71" cy="333.08" r="2.45"/><circle cx="172.73" cy="328.91" r="2.45"/><circle cx="175.76" cy="323.82" r="2.45"/><circle cx="178.78" cy="314.47" r="2.45"/><circle cx="181.81" cy="308.69" r="2.45"/><circle cx="184.83" cy="303.82" r="2.45"/><circle cx="187.86" cy="299.23" r="2.45"/><circle cx="190.88" cy="294.91" r="2.45"/><circle cx="193.91" cy="290.81" r="2.45"/><circle cx="196.93" cy="286.89" r="2.45"/><circle cx="199.96" cy="283.16" r="2.45"/><circle cx="202.98" cy="279.61" r="2.45"/><circle cx="206.01" cy="276.23" r="2.45"/><circle cx="209.03" cy="273.04" r="2.45"/><circle cx="212.06" cy="269.96" r="2.45"/><circle cx="215.08" cy="266.96" r="2.45"/><circle cx="218.11" cy="264.17" r="2.45"/><circle cx="221.13" cy="261.59" r="2.45"/><circle cx="224.16" cy="259.22" r="2.45"/><circle cx="227.18" cy="257.05" r="2.45"/><circle cx="230.21" cy="255.06" r="2.45"/><circle cx="233.23" cy="253.25" r="2.45"/><circle cx="236.26" cy="251.6" r="2.45"/><circle cx="239.28" cy="250.12" r="2.45"/><circle cx="242.31" cy="248.77" r="2.45"/><circle cx="245.33" cy="247.56" r="2.45"/><circle cx="248.36" cy="246.47" r="2.45"/><circle cx="251.38" cy="245.49" r="2.45"/><circle cx="254.41" cy="244.61" r="2.45"/><circle cx="257.43" cy="243.83" r="2.45"/><circle cx="260.46" cy="243.13" r="2.45"/><circle cx="263.48" cy="242.5" r="2.45"/><circle cx="266.51" cy="241.94" r="2.45"/><circle cx="269.53" cy="241.45" r="2.45"/><circle cx="272.56" cy="241" r="2.45"/><circle cx="275.58" cy="240.61" r="2.45"/><circle cx="278.61" cy="240.26" r="2.45"/><circle cx="281.63" cy="239.95" r="2.45"/><circle cx="284.66" cy="239.67" r="2.45"/><circle cx="287.68" cy="239.42" r="2.45"/><circle cx="290.71" cy="239.2" r="2.45"/><circle cx="293.73" cy="239.01" r="2.45"/><circle cx="296.76" cy="238.84" r="2.45"/><circle cx="299.78" cy="238.69" r="2.45"/><circle cx="60.81" cy="389.33" r="2.45"/><circle cx="63.83" cy="389.16" r="2.45"/><circle cx="66.86" cy="388.94" r="2.45"/><circle cx="69.88" cy="388.69" r="2.45"/><circle cx="72.91" cy="388.42" r="2.45"/><circle cx="75.93" cy="388.11" r="2.45"/><circle cx="78.96" cy="387.77" r="2.45"/><circle cx="81.98" cy="387.4" r="2.45"/><circle cx="85.01" cy="386.98" r="2.45"/><circle cx="88.03" cy="386.51" r="2.45"/><circle cx="91.06" cy="386" r="2.45"/><circle cx="94.08" cy="385.42" r="2.45"/><circle cx="97.11" cy="384.79" r="2.45"/><circle cx="100.13" cy="384.09" r="2.45"/><circle cx="103.16" cy="383.31" r="2.45"/><circle cx="106.18" cy="382.46" r="2.45"/><circle cx="109.21" cy="381.52" r="2.45"/><circle cx="112.23" cy="380.48" r="2.45"/><circle cx="115.26" cy="379.34" r="2.45"/><circle cx="118.28" cy="378.09" r="2.45"/><circle cx="121.31" cy="376.73" r="2.45"/><circle cx="124.33" cy="375.23" r="2.45"/><circle cx="127.36" cy="373.61" r="2.45"/><circle cx="130.38" cy="371.84" r="2.45"/><circle cx="133.41" cy="369.92" r="2.45"/><circle cx="136.43" cy="367.85" r="2.45"/><circle cx="139.46" cy="365.62" r="2.45"/><circle cx="142.48" cy="363.23" r="2.45"/><circle cx="145.51" cy="360.67" r="2.45"/><circle cx="148.53" cy="357.94" r="2.45"/><circle cx="151.56" cy="355.12" r="2.45"/><circle cx="154.58" cy="352.27" r="2.45"/><circle cx="157.61" cy="349.29" r="2.45"/><circle cx="160.63" cy="346.18" r="2.45"/><circle cx="163.66" cy="342.96" r="2.45"/><circle cx="166.68" cy="339.62" r="2.45"/><circle cx="169.71" cy="336.19" r="2.45"/><circle cx="172.73" cy="332.66" r="2.45"/><circle cx="175.76" cy="329" r="2.45"/><circle cx="178.78" cy="324.69" r="2.45"/><circle cx="181.81" cy="317.01" r="2.45"/><circle cx="184.83" cy="309.71" r="2.45"/><circle cx="187.86" cy="304.12" r="2.45"/><circle cx="190.88" cy="298.9" r="2.45"/><circle cx="193.91" cy="294.01" r="2.45"/><circle cx="196.93" cy="289.4" r="2.45"/><circle cx="199.96" cy="285.03" r="2.45"/><circle cx="202.98" cy="280.9" r="2.45"/><circle cx="206.01" cy="276.99" r="2.45"/><circle cx="209.03" cy="273.32" r="2.45"/><circle cx="212.06" cy="269.96" r="2.45"/><circle cx="215.08" cy="266.96" r="2.45"/><circle cx="218.11" cy="264.17" r="2.45"/><circle cx="221.13" cy="261.59" r="2.45"/><circle cx="224.16" cy="259.22" r="2.45"/><circle cx="227.18" cy="257.05" r="2.45"/><circle cx="230.21" cy="255.06" r="2.45"/><circle cx="233.23" cy="253.25" r="2.45"/><circle cx="236.26" cy="251.6" r="2.45"/><circle cx="239.28" cy="250.12" r="2.45"/><circle cx="242.31" cy="248.77" r="2.45"/><circle cx="245.33" cy="247.56" r="2.45"/><circle cx="248.36" cy="246.47" r="2.45"/><circle cx="251.38" cy="245.49" r="2.45"/><circle cx="254.41" cy="244.61" r="2.45"/><circle cx="257.43" cy="243.83" r="2.45"/><circle cx="260.46" cy="243.13" r="2.45"/><circle cx="263.48" cy="242.5" r="2.45"/><circle cx="266.51" cy="241.94" r="2.45"/><circle cx="269.53" cy="241.45" r="2.45"/><circle cx="272.56" cy="241" r="2.45"/><circle cx="275.58" cy="240.61" r="2.45"/><circle cx="278.61" cy="240.26" r="2.45"/><circle cx="281.63" cy="239.95" r="2.45"/><circle cx="284.66" cy="239.67" r="2.45"/><circle cx="287.68" cy="239.42" r="2.45"/><circle cx="290.71" cy="239.2" r="2.45"/><circle cx="293.73" cy="239.01" r="2.45"/><circle cx="296.76" cy="238.84" r="2.45"/><circle cx="299.78" cy="238.69" r="2.45"/></g>
<line x1="29.5" y1="313.5" x2="332" y2="313.5" stroke="#3a3a3a" stroke-width="1"/>
<line x1="180.5" y1="223.6" x2="180.5" y2="404.4" stroke="#444" stroke-width="1.1"/>
<line x1="28.9" y1="223.5" x2="332.85" y2="223.5" stroke="#2a2a2a" stroke-width="1.0"/>
<line x1="332" y1="223.5" x2="332" y2="404.4" stroke="#8c8c8c" stroke-width="1.7"/>
<line x1="29.5" y1="223" x2="29.5" y2="404.9" stroke="#2a2a2a" stroke-width="1.0"/>
<line x1="29" y1="404.4" x2="332.85" y2="404.4" stroke="#2a2a2a" stroke-width="1.0"/>
<text x="0" y="0" text-anchor="middle" font-family='"Liberation Sans", sans-serif' font-size="8.0" fill="#222" transform="translate(29.5 413.76) scale(0.86 1)">-1000</text>
<text x="0" y="0" text-anchor="middle" font-family='"Liberation Sans", sans-serif' font-size="8.0" fill="#222" transform="translate(105.12 413.76) scale(0.86 1)">-500</text>
<text x="0" y="0" text-anchor="middle" font-family='"Liberation Sans", sans-serif' font-size="8.0" fill="#222" transform="translate(180.75 413.76) scale(0.86 1)">0</text>
<text x="0" y="0" text-anchor="middle" font-family='"Liberation Sans", sans-serif' font-size="8.0" fill="#222" transform="translate(256.38 413.76) scale(0.86 1)">500</text>
<text x="0" y="0" text-anchor="middle" font-family='"Liberation Sans", sans-serif' font-size="8.0" fill="#222" transform="translate(332 413.76) scale(0.86 1)">1000</text>
<text x="0" y="0" text-anchor="end" font-family='"Liberation Sans", sans-serif' font-size="7.4" fill="#222" transform="translate(25.9 391.08) scale(0.95 1)">0.0</text>
<text x="0" y="0" text-anchor="end" font-family='"Liberation Sans", sans-serif' font-size="7.4" fill="#222" transform="translate(25.9 360.95) scale(0.95 1)">0.2</text>
<text x="0" y="0" text-anchor="end" font-family='"Liberation Sans", sans-serif' font-size="7.4" fill="#222" transform="translate(25.9 330.82) scale(0.95 1)">0.4</text>
<text x="0" y="0" text-anchor="end" font-family='"Liberation Sans", sans-serif' font-size="7.4" fill="#222" transform="translate(25.9 300.68) scale(0.95 1)">0.6</text>
<text x="0" y="0" text-anchor="end" font-family='"Liberation Sans", sans-serif' font-size="7.4" fill="#222" transform="translate(25.9 270.55) scale(0.95 1)">0.8</text>
<text x="0" y="0" text-anchor="end" font-family='"Liberation Sans", sans-serif' font-size="7.4" fill="#222" transform="translate(25.9 240.42) scale(0.95 1)">1.0</text>
<path d="M67.31 404.4v-2M105.12 404.4v-4M142.94 404.4v-2M180.75 404.4v-4M218.56 404.4v-2M256.38 404.4v-4M294.19 404.4v-2M29.5 389.33h4M29.5 374.27h2M29.5 359.2h4M29.5 344.13h2M29.5 329.07h4M29.5 314h2M29.5 298.93h4M29.5 283.87h2M29.5 268.8h4M29.5 253.73h2M29.5 238.67h4M29.5 223.6h2" stroke="#2a2a2a" stroke-width="1" fill="none"/>
<path d="M35.3 229.6H54.2M35.3 239.9H54.2" stroke="#666" stroke-width="0.8"/>
<rect x="41.3" y="225.7" width="8.3" height="7.8" fill="#000"/>
<circle cx="45" cy="240.1" r="4.25" fill="#fff" stroke="#111" stroke-width="0.9"/>
<text x="56.9" y="231.9" font-family='"Liberation Serif", serif' font-size="8.5" fill="#111" textLength="41.8" lengthAdjust="spacingAndGlyphs">out-of-plane</text>
<text x="57.3" y="242.4" font-family='"Liberation Serif", serif' font-size="8.5" fill="#111" textLength="26.8" lengthAdjust="spacingAndGlyphs">in-plane</text>
<text x="152.4" y="428" font-family='"Liberation Serif", serif' font-size="9.4" fill="#111" textLength="82.7" lengthAdjust="spacingAndGlyphs">Magnetic&#160;&#160;Field&#160;&#160;(kA/m)</text>
<text transform="translate(4 313.6) rotate(-90)" x="-10.65" y="0" dominant-baseline="central" font-family='"Liberation Sans", sans-serif' font-style="italic" font-size="8.8" fill="#111" textLength="21.3" lengthAdjust="spacingAndGlyphs">M/Ms</text>
<text x="0" y="0" transform="translate(302.4 398.8) scale(0.87 1)" font-family='"Liberation Serif", serif' font-size="24.0" font-weight="bold" fill="#000">c</text>
<polyline points="403.77,389.24 406.79,388.63 409.81,387.88 412.83,387.09 415.85,386.27 418.87,385.41 421.89,384.51 424.91,383.57 427.94,382.6 430.96,381.58 433.98,380.52 437,379.41 440.02,378.27 443.04,377.07 446.06,375.84 449.08,374.55 452.1,373.22 455.12,371.84 458.15,370.41 461.17,368.93 464.19,367.39 467.21,365.8 470.23,364.16 473.25,362.45 476.27,360.68 479.29,358.83 482.31,356.91 485.33,354.89 488.36,352.77 491.38,350.53 494.4,348.09 497.42,345.33 500.44,342.35 503.46,339.11 506.48,335.58 509.5,331.73 512.52,327.57 515.54,323.13 518.57,318.48 521.59,313.69 524.61,308.62 527.63,304.17 530.65,299.93 533.67,295.97 536.69,292.3 539.71,288.94 542.73,285.87 545.75,283.04 548.78,280.43 551.8,278.01 554.82,275.68 557.84,273.38 560.86,271.22 563.88,269.17 566.9,267.21 569.92,265.35 572.94,263.56 575.96,261.85 578.99,260.21 582.01,258.64 585.03,257.13 588.05,255.69 591.07,254.3 594.09,252.98 597.11,251.72 600.13,250.51 603.15,249.36 606.17,248.27 609.2,247.22 612.22,246.23 615.24,245.29 618.26,244.39 621.28,243.54 624.3,242.74 627.32,241.97 630.34,241.25 633.36,240.57 636.38,239.93 639.41,239.32 642.43,238.74" fill="none" stroke="#777" stroke-width="0.6"/>
<polyline points="403.77,389.24 406.79,388.63 409.81,387.88 412.83,387.09 415.85,386.27 418.87,385.41 421.89,384.51 424.91,383.57 427.94,382.6 430.96,381.58 433.98,380.52 437,379.41 440.02,378.27 443.04,377.07 446.06,375.84 449.08,374.55 452.1,373.22 455.12,371.84 458.15,370.41 461.17,368.93 464.19,367.39 467.21,365.8 470.23,364.16 473.25,362.45 476.27,360.68 479.29,358.83 482.31,356.91 485.33,354.89 488.36,352.77 491.38,350.53 494.4,348.22 497.42,345.87 500.44,343.36 503.46,340.66 506.48,337.76 509.5,334.63 512.52,331.27 515.54,327.68 518.57,323.88 521.59,319.92 524.61,315.61 527.63,310.46 530.65,305.22 533.67,300.25 536.69,295.65 539.71,291.45 542.73,287.66 545.75,284.23 548.78,281.11 551.8,278.26 554.82,275.68 557.84,273.38 560.86,271.22 563.88,269.17 566.9,267.21 569.92,265.35 572.94,263.56 575.96,261.85 578.99,260.21 582.01,258.64 585.03,257.13 588.05,255.69 591.07,254.3 594.09,252.98 597.11,251.72 600.13,250.51 603.15,249.36 606.17,248.27 609.2,247.22 612.22,246.23 615.24,245.29 618.26,244.39 621.28,243.54 624.3,242.74 627.32,241.97 630.34,241.25 633.36,240.57 636.38,239.93 639.41,239.32 642.43,238.74" fill="none" stroke="#777" stroke-width="0.6"/>
<path d="M401.52 386.99h4.5v4.5h-4.5zM404.54 386.38h4.5v4.5h-4.5zM407.56 385.63h4.5v4.5h-4.5zM410.58 384.84h4.5v4.5h-4.5zM413.6 384.02h4.5v4.5h-4.5zM416.62 383.16h4.5v4.5h-4.5zM419.64 382.26h4.5v4.5h-4.5zM422.66 381.32h4.5v4.5h-4.5zM425.69 380.35h4.5v4.5h-4.5zM428.71 379.33h4.5v4.5h-4.5zM431.73 378.27h4.5v4.5h-4.5zM434.75 377.16h4.5v4.5h-4.5zM437.77 376.02h4.5v4.5h-4.5zM440.79 374.82h4.5v4.5h-4.5zM443.81 373.59h4.5v4.5h-4.5zM446.83 372.3h4.5v4.5h-4.5zM449.85 370.97h4.5v4.5h-4.5zM452.87 369.59h4.5v4.5h-4.5zM455.9 368.16h4.5v4.5h-4.5zM458.92 366.68h4.5v4.5h-4.5zM461.94 365.14h4.5v4.5h-4.5zM464.96 363.55h4.5v4.5h-4.5zM467.98 361.91h4.5v4.5h-4.5zM471 360.2h4.5v4.5h-4.5zM474.02 358.43h4.5v4.5h-4.5zM477.04 356.58h4.5v4.5h-4.5zM480.06 354.66h4.5v4.5h-4.5zM483.08 352.64h4.5v4.5h-4.5zM486.11 350.52h4.5v4.5h-4.5zM489.13 348.28h4.5v4.5h-4.5zM492.15 345.84h4.5v4.5h-4.5zM495.17 343.08h4.5v4.5h-4.5zM498.19 340.1h4.5v4.5h-4.5zM501.21 336.86h4.5v4.5h-4.5zM504.23 333.33h4.5v4.5h-4.5zM507.25 329.48h4.5v4.5h-4.5zM510.27 325.32h4.5v4.5h-4.5zM513.29 320.88h4.5v4.5h-4.5zM516.32 316.23h4.5v4.5h-4.5zM519.34 311.44h4.5v4.5h-4.5zM522.36 306.37h4.5v4.5h-4.5zM525.38 301.92h4.5v4.5h-4.5zM528.4 297.68h4.5v4.5h-4.5zM531.42 293.72h4.5v4.5h-4.5zM534.44 290.05h4.5v4.5h-4.5zM537.46 286.69h4.5v4.5h-4.5zM540.48 283.62h4.5v4.5h-4.5zM543.5 280.79h4.5v4.5h-4.5zM546.53 278.18h4.5v4.5h-4.5zM549.55 275.76h4.5v4.5h-4.5zM552.57 273.43h4.5v4.5h-4.5zM555.59 271.13h4.5v4.5h-4.5zM558.61 268.97h4.5v4.5h-4.5zM561.63 266.92h4.5v4.5h-4.5zM564.65 264.96h4.5v4.5h-4.5zM567.67 263.1h4.5v4.5h-4.5zM570.69 261.31h4.5v4.5h-4.5zM573.71 259.6h4.5v4.5h-4.5zM576.74 257.96h4.5v4.5h-4.5zM579.76 256.39h4.5v4.5h-4.5zM582.78 254.88h4.5v4.5h-4.5zM585.8 253.44h4.5v4.5h-4.5zM588.82 252.05h4.5v4.5h-4.5zM591.84 250.73h4.5v4.5h-4.5zM594.86 249.47h4.5v4.5h-4.5zM597.88 248.26h4.5v4.5h-4.5zM600.9 247.11h4.5v4.5h-4.5zM603.92 246.02h4.5v4.5h-4.5zM606.95 244.97h4.5v4.5h-4.5zM609.97 243.98h4.5v4.5h-4.5zM612.99 243.04h4.5v4.5h-4.5zM616.01 242.14h4.5v4.5h-4.5zM619.03 241.29h4.5v4.5h-4.5zM622.05 240.49h4.5v4.5h-4.5zM625.07 239.72h4.5v4.5h-4.5zM628.09 239h4.5v4.5h-4.5zM631.11 238.32h4.5v4.5h-4.5zM634.13 237.68h4.5v4.5h-4.5zM637.16 237.07h4.5v4.5h-4.5zM640.18 236.49h4.5v4.5h-4.5zM401.52 386.99h4.5v4.5h-4.5zM404.54 386.38h4.5v4.5h-4.5zM407.56 385.63h4.5v4.5h-4.5zM410.58 384.84h4.5v4.5h-4.5zM413.6 384.02h4.5v4.5h-4.5zM416.62 383.16h4.5v4.5h-4.5zM419.64 382.26h4.5v4.5h-4.5zM422.66 381.32h4.5v4.5h-4.5zM425.69 380.35h4.5v4.5h-4.5zM428.71 379.33h4.5v4.5h-4.5zM431.73 378.27h4.5v4.5h-4.5zM434.75 377.16h4.5v4.5h-4.5zM437.77 376.02h4.5v4.5h-4.5zM440.79 374.82h4.5v4.5h-4.5zM443.81 373.59h4.5v4.5h-4.5zM446.83 372.3h4.5v4.5h-4.5zM449.85 370.97h4.5v4.5h-4.5zM452.87 369.59h4.5v4.5h-4.5zM455.9 368.16h4.5v4.5h-4.5zM458.92 366.68h4.5v4.5h-4.5zM461.94 365.14h4.5v4.5h-4.5zM464.96 363.55h4.5v4.5h-4.5zM467.98 361.91h4.5v4.5h-4.5zM471 360.2h4.5v4.5h-4.5zM474.02 358.43h4.5v4.5h-4.5zM477.04 356.58h4.5v4.5h-4.5zM480.06 354.66h4.5v4.5h-4.5zM483.08 352.64h4.5v4.5h-4.5zM486.11 350.52h4.5v4.5h-4.5zM489.13 348.28h4.5v4.5h-4.5zM492.15 345.97h4.5v4.5h-4.5zM495.17 343.62h4.5v4.5h-4.5zM498.19 341.11h4.5v4.5h-4.5zM501.21 338.41h4.5v4.5h-4.5zM504.23 335.51h4.5v4.5h-4.5zM507.25 332.38h4.5v4.5h-4.5zM510.27 329.02h4.5v4.5h-4.5zM513.29 325.43h4.5v4.5h-4.5zM516.32 321.63h4.5v4.5h-4.5zM519.34 317.67h4.5v4.5h-4.5zM522.36 313.36h4.5v4.5h-4.5zM525.38 308.21h4.5v4.5h-4.5zM528.4 302.97h4.5v4.5h-4.5zM531.42 298h4.5v4.5h-4.5zM534.44 293.4h4.5v4.5h-4.5zM537.46 289.2h4.5v4.5h-4.5zM540.48 285.41h4.5v4.5h-4.5zM543.5 281.98h4.5v4.5h-4.5zM546.53 278.86h4.5v4.5h-4.5zM549.55 276.01h4.5v4.5h-4.5zM552.57 273.43h4.5v4.5h-4.5zM555.59 271.13h4.5v4.5h-4.5zM558.61 268.97h4.5v4.5h-4.5zM561.63 266.92h4.5v4.5h-4.5zM564.65 264.96h4.5v4.5h-4.5zM567.67 263.1h4.5v4.5h-4.5zM570.69 261.31h4.5v4.5h-4.5zM573.71 259.6h4.5v4.5h-4.5zM576.74 257.96h4.5v4.5h-4.5zM579.76 256.39h4.5v4.5h-4.5zM582.78 254.88h4.5v4.5h-4.5zM585.8 253.44h4.5v4.5h-4.5zM588.82 252.05h4.5v4.5h-4.5zM591.84 250.73h4.5v4.5h-4.5zM594.86 249.47h4.5v4.5h-4.5zM597.88 248.26h4.5v4.5h-4.5zM600.9 247.11h4.5v4.5h-4.5zM603.92 246.02h4.5v4.5h-4.5zM606.95 244.97h4.5v4.5h-4.5zM609.97 243.98h4.5v4.5h-4.5zM612.99 243.04h4.5v4.5h-4.5zM616.01 242.14h4.5v4.5h-4.5zM619.03 241.29h4.5v4.5h-4.5zM622.05 240.49h4.5v4.5h-4.5zM625.07 239.72h4.5v4.5h-4.5zM628.09 239h4.5v4.5h-4.5zM631.11 238.32h4.5v4.5h-4.5zM634.13 237.68h4.5v4.5h-4.5zM637.16 237.07h4.5v4.5h-4.5zM640.18 236.49h4.5v4.5h-4.5z" fill="#000"/>
<polyline points="403.77,389.24 406.79,389.11 409.81,388.93 412.83,388.73 415.85,388.5 418.87,388.25 421.89,387.97 424.91,387.66 427.94,387.31 430.96,386.91 433.98,386.47 437,385.98 440.02,385.43 443.04,384.82 446.06,384.13 449.08,383.37 452.1,382.53 455.12,381.59 458.15,380.55 461.17,379.4 464.19,378.14 467.21,376.74 470.23,375.21 473.25,373.53 476.27,371.69 479.29,369.69 482.31,367.52 485.33,365.17 488.36,362.64 491.38,359.93 494.4,356.96 497.42,353.66 500.44,350.15 503.46,346.41 506.48,342.44 509.5,338.15 512.52,333.41 515.54,327.94 518.57,321.51 521.59,314.25 524.61,307.61 527.63,301.96 530.65,296.89 533.67,292.32 536.69,288.15 539.71,284.26 542.73,280.62 545.75,277.17 548.78,273.92 551.8,270.86 554.82,267.92 557.84,265.06 560.86,262.41 563.88,259.97 566.9,257.72 569.92,255.67 572.94,253.8 575.96,252.1 578.99,250.56 582.01,249.17 585.03,247.92 588.05,246.79 591.07,245.78 594.09,244.88 597.11,244.07 600.13,243.35 603.15,242.7 606.17,242.13 609.2,241.62 612.22,241.16 615.24,240.76 618.26,240.4 621.28,240.09 624.3,239.8 627.32,239.56 630.34,239.33 633.36,239.14 636.38,238.97 639.41,238.81 642.43,238.68" fill="none" stroke="#777" stroke-width="0.6"/>
<polyline points="403.77,389.24 406.79,389.11 409.81,388.93 412.83,388.73 415.85,388.5 418.87,388.25 421.89,387.97 424.91,387.66 427.94,387.31 430.96,386.91 433.98,386.47 437,385.98 440.02,385.43 443.04,384.82 446.06,384.13 449.08,383.37 452.1,382.53 455.12,381.59 458.15,380.55 461.17,379.4 464.19,378.14 467.21,376.74 470.23,375.21 473.25,373.53 476.27,371.69 479.29,369.69 482.31,367.52 485.33,365.17 488.36,362.64 491.38,359.93 494.4,357.09 497.42,354.22 500.44,351.17 503.46,347.97 506.48,344.58 509.5,340.99 512.52,337.13 515.54,332.88 518.57,328.06 521.59,322.48 524.61,315.89 527.63,308.81 530.65,302.3 533.67,296.53 536.69,291.4 539.71,286.75 542.73,282.44 545.75,278.42 548.78,274.65 551.8,271.13 554.82,267.92 557.84,265.06 560.86,262.41 563.88,259.97 566.9,257.72 569.92,255.67 572.94,253.8 575.96,252.1 578.99,250.56 582.01,249.17 585.03,247.92 588.05,246.79 591.07,245.78 594.09,244.88 597.11,244.07 600.13,243.35 603.15,242.7 606.17,242.13 609.2,241.62 612.22,241.16 615.24,240.76 618.26,240.4 621.28,240.09 624.3,239.8 627.32,239.56 630.34,239.33 633.36,239.14 636.38,238.97 639.41,238.81 642.43,238.68" fill="none" stroke="#777" stroke-width="0.6"/>
<g fill="#fff" stroke="#4a4a4a" stroke-width="0.62"><circle cx="403.77" cy="389.24" r="2.45"/><circle cx="406.79" cy="389.11" r="2.45"/><circle cx="409.81" cy="388.93" r="2.45"/><circle cx="412.83" cy="388.73" r="2.45"/><circle cx="415.85" cy="388.5" r="2.45"/><circle cx="418.87" cy="388.25" r="2.45"/><circle cx="421.89" cy="387.97" r="2.45"/><circle cx="424.91" cy="387.66" r="2.45"/><circle cx="427.94" cy="387.31" r="2.45"/><circle cx="430.96" cy="386.91" r="2.45"/><circle cx="433.98" cy="386.47" r="2.45"/><circle cx="437" cy="385.98" r="2.45"/><circle cx="440.02" cy="385.43" r="2.45"/><circle cx="443.04" cy="384.82" r="2.45"/><circle cx="446.06" cy="384.13" r="2.45"/><circle cx="449.08" cy="383.37" r="2.45"/><circle cx="452.1" cy="382.53" r="2.45"/><circle cx="455.12" cy="381.59" r="2.45"/><circle cx="458.15" cy="380.55" r="2.45"/><circle cx="461.17" cy="379.4" r="2.45"/><circle cx="464.19" cy="378.14" r="2.45"/><circle cx="467.21" cy="376.74" r="2.45"/><circle cx="470.23" cy="375.21" r="2.45"/><circle cx="473.25" cy="373.53" r="2.45"/><circle cx="476.27" cy="371.69" r="2.45"/><circle cx="479.29" cy="369.69" r="2.45"/><circle cx="482.31" cy="367.52" r="2.45"/><circle cx="485.33" cy="365.17" r="2.45"/><circle cx="488.36" cy="362.64" r="2.45"/><circle cx="491.38" cy="359.93" r="2.45"/><circle cx="494.4" cy="356.96" r="2.45"/><circle cx="497.42" cy="353.66" r="2.45"/><circle cx="500.44" cy="350.15" r="2.45"/><circle cx="503.46" cy="346.41" r="2.45"/><circle cx="506.48" cy="342.44" r="2.45"/><circle cx="509.5" cy="338.15" r="2.45"/><circle cx="512.52" cy="333.41" r="2.45"/><circle cx="515.54" cy="327.94" r="2.45"/><circle cx="518.57" cy="321.51" r="2.45"/><circle cx="521.59" cy="314.25" r="2.45"/><circle cx="524.61" cy="307.61" r="2.45"/><circle cx="527.63" cy="301.96" r="2.45"/><circle cx="530.65" cy="296.89" r="2.45"/><circle cx="533.67" cy="292.32" r="2.45"/><circle cx="536.69" cy="288.15" r="2.45"/><circle cx="539.71" cy="284.26" r="2.45"/><circle cx="542.73" cy="280.62" r="2.45"/><circle cx="545.75" cy="277.17" r="2.45"/><circle cx="548.78" cy="273.92" r="2.45"/><circle cx="551.8" cy="270.86" r="2.45"/><circle cx="554.82" cy="267.92" r="2.45"/><circle cx="557.84" cy="265.06" r="2.45"/><circle cx="560.86" cy="262.41" r="2.45"/><circle cx="563.88" cy="259.97" r="2.45"/><circle cx="566.9" cy="257.72" r="2.45"/><circle cx="569.92" cy="255.67" r="2.45"/><circle cx="572.94" cy="253.8" r="2.45"/><circle cx="575.96" cy="252.1" r="2.45"/><circle cx="578.99" cy="250.56" r="2.45"/><circle cx="582.01" cy="249.17" r="2.45"/><circle cx="585.03" cy="247.92" r="2.45"/><circle cx="588.05" cy="246.79" r="2.45"/><circle cx="591.07" cy="245.78" r="2.45"/><circle cx="594.09" cy="244.88" r="2.45"/><circle cx="597.11" cy="244.07" r="2.45"/><circle cx="600.13" cy="243.35" r="2.45"/><circle cx="603.15" cy="242.7" r="2.45"/><circle cx="606.17" cy="242.13" r="2.45"/><circle cx="609.2" cy="241.62" r="2.45"/><circle cx="612.22" cy="241.16" r="2.45"/><circle cx="615.24" cy="240.76" r="2.45"/><circle cx="618.26" cy="240.4" r="2.45"/><circle cx="621.28" cy="240.09" r="2.45"/><circle cx="624.3" cy="239.8" r="2.45"/><circle cx="627.32" cy="239.56" r="2.45"/><circle cx="630.34" cy="239.33" r="2.45"/><circle cx="633.36" cy="239.14" r="2.45"/><circle cx="636.38" cy="238.97" r="2.45"/><circle cx="639.41" cy="238.81" r="2.45"/><circle cx="642.43" cy="238.68" r="2.45"/><circle cx="403.77" cy="389.24" r="2.45"/><circle cx="406.79" cy="389.11" r="2.45"/><circle cx="409.81" cy="388.93" r="2.45"/><circle cx="412.83" cy="388.73" r="2.45"/><circle cx="415.85" cy="388.5" r="2.45"/><circle cx="418.87" cy="388.25" r="2.45"/><circle cx="421.89" cy="387.97" r="2.45"/><circle cx="424.91" cy="387.66" r="2.45"/><circle cx="427.94" cy="387.31" r="2.45"/><circle cx="430.96" cy="386.91" r="2.45"/><circle cx="433.98" cy="386.47" r="2.45"/><circle cx="437" cy="385.98" r="2.45"/><circle cx="440.02" cy="385.43" r="2.45"/><circle cx="443.04" cy="384.82" r="2.45"/><circle cx="446.06" cy="384.13" r="2.45"/><circle cx="449.08" cy="383.37" r="2.45"/><circle cx="452.1" cy="382.53" r="2.45"/><circle cx="455.12" cy="381.59" r="2.45"/><circle cx="458.15" cy="380.55" r="2.45"/><circle cx="461.17" cy="379.4" r="2.45"/><circle cx="464.19" cy="378.14" r="2.45"/><circle cx="467.21" cy="376.74" r="2.45"/><circle cx="470.23" cy="375.21" r="2.45"/><circle cx="473.25" cy="373.53" r="2.45"/><circle cx="476.27" cy="371.69" r="2.45"/><circle cx="479.29" cy="369.69" r="2.45"/><circle cx="482.31" cy="367.52" r="2.45"/><circle cx="485.33" cy="365.17" r="2.45"/><circle cx="488.36" cy="362.64" r="2.45"/><circle cx="491.38" cy="359.93" r="2.45"/><circle cx="494.4" cy="357.09" r="2.45"/><circle cx="497.42" cy="354.22" r="2.45"/><circle cx="500.44" cy="351.17" r="2.45"/><circle cx="503.46" cy="347.97" r="2.45"/><circle cx="506.48" cy="344.58" r="2.45"/><circle cx="509.5" cy="340.99" r="2.45"/><circle cx="512.52" cy="337.13" r="2.45"/><circle cx="515.54" cy="332.88" r="2.45"/><circle cx="518.57" cy="328.06" r="2.45"/><circle cx="521.59" cy="322.48" r="2.45"/><circle cx="524.61" cy="315.89" r="2.45"/><circle cx="527.63" cy="308.81" r="2.45"/><circle cx="530.65" cy="302.3" r="2.45"/><circle cx="533.67" cy="296.53" r="2.45"/><circle cx="536.69" cy="291.4" r="2.45"/><circle cx="539.71" cy="286.75" r="2.45"/><circle cx="542.73" cy="282.44" r="2.45"/><circle cx="545.75" cy="278.42" r="2.45"/><circle cx="548.78" cy="274.65" r="2.45"/><circle cx="551.8" cy="271.13" r="2.45"/><circle cx="554.82" cy="267.92" r="2.45"/><circle cx="557.84" cy="265.06" r="2.45"/><circle cx="560.86" cy="262.41" r="2.45"/><circle cx="563.88" cy="259.97" r="2.45"/><circle cx="566.9" cy="257.72" r="2.45"/><circle cx="569.92" cy="255.67" r="2.45"/><circle cx="572.94" cy="253.8" r="2.45"/><circle cx="575.96" cy="252.1" r="2.45"/><circle cx="578.99" cy="250.56" r="2.45"/><circle cx="582.01" cy="249.17" r="2.45"/><circle cx="585.03" cy="247.92" r="2.45"/><circle cx="588.05" cy="246.79" r="2.45"/><circle cx="591.07" cy="245.78" r="2.45"/><circle cx="594.09" cy="244.88" r="2.45"/><circle cx="597.11" cy="244.07" r="2.45"/><circle cx="600.13" cy="243.35" r="2.45"/><circle cx="603.15" cy="242.7" r="2.45"/><circle cx="606.17" cy="242.13" r="2.45"/><circle cx="609.2" cy="241.62" r="2.45"/><circle cx="612.22" cy="241.16" r="2.45"/><circle cx="615.24" cy="240.76" r="2.45"/><circle cx="618.26" cy="240.4" r="2.45"/><circle cx="621.28" cy="240.09" r="2.45"/><circle cx="624.3" cy="239.8" r="2.45"/><circle cx="627.32" cy="239.56" r="2.45"/><circle cx="630.34" cy="239.33" r="2.45"/><circle cx="633.36" cy="239.14" r="2.45"/><circle cx="636.38" cy="238.97" r="2.45"/><circle cx="639.41" cy="238.81" r="2.45"/><circle cx="642.43" cy="238.68" r="2.45"/></g>
<line x1="372.5" y1="313.5" x2="674.6" y2="313.5" stroke="#3a3a3a" stroke-width="1"/>
<line x1="523.5" y1="223.6" x2="523.5" y2="404.3" stroke="#444" stroke-width="1.1"/>
<line x1="371.9" y1="223.5" x2="675" y2="223.5" stroke="#2a2a2a" stroke-width="1.0"/>
<line x1="674.5" y1="223.5" x2="674.5" y2="404.3" stroke="#2a2a2a" stroke-width="1.0"/>
<line x1="372.5" y1="223" x2="372.5" y2="404.8" stroke="#2a2a2a" stroke-width="1.0"/>
<line x1="372" y1="404.3" x2="675" y2="404.3" stroke="#2a2a2a" stroke-width="1.0"/>
<text x="0" y="0" text-anchor="middle" font-family='"Liberation Sans", sans-serif' font-size="8.0" fill="#222" transform="translate(372.5 413.86) scale(0.82 1)">-1000</text>
<text x="0" y="0" text-anchor="middle" font-family='"Liberation Sans", sans-serif' font-size="8.0" fill="#222" transform="translate(448.02 413.86) scale(0.82 1)">-500</text>
<text x="0" y="0" text-anchor="middle" font-family='"Liberation Sans", sans-serif' font-size="8.0" fill="#222" transform="translate(523.55 413.86) scale(0.82 1)">0</text>
<text x="0" y="0" text-anchor="middle" font-family='"Liberation Sans", sans-serif' font-size="8.0" fill="#222" transform="translate(599.08 413.86) scale(0.82 1)">500</text>
<text x="0" y="0" text-anchor="middle" font-family='"Liberation Sans", sans-serif' font-size="8.0" fill="#222" transform="translate(674.6 413.86) scale(0.82 1)">1000</text>
<text x="0" y="0" text-anchor="end" font-family='"Liberation Sans", sans-serif' font-size="7.2" fill="#222" transform="translate(368.5 390.82) scale(0.96 1)">0.0</text>
<text x="0" y="0" text-anchor="end" font-family='"Liberation Sans", sans-serif' font-size="7.2" fill="#222" transform="translate(368.5 360.7) scale(0.96 1)">0.2</text>
<text x="0" y="0" text-anchor="end" font-family='"Liberation Sans", sans-serif' font-size="7.2" fill="#222" transform="translate(368.5 330.59) scale(0.96 1)">0.4</text>
<text x="0" y="0" text-anchor="end" font-family='"Liberation Sans", sans-serif' font-size="7.2" fill="#222" transform="translate(368.5 300.47) scale(0.96 1)">0.6</text>
<text x="0" y="0" text-anchor="end" font-family='"Liberation Sans", sans-serif' font-size="7.2" fill="#222" transform="translate(368.5 270.35) scale(0.96 1)">0.8</text>
<text x="0" y="0" text-anchor="end" font-family='"Liberation Sans", sans-serif' font-size="7.2" fill="#222" transform="translate(368.5 240.24) scale(0.96 1)">1.0</text>
<path d="M410.26 404.3v-2M448.02 404.3v-4M485.79 404.3v-2M523.55 404.3v-4M561.31 404.3v-2M599.08 404.3v-4M636.84 404.3v-2M372.5 389.24h4M372.5 374.18h2M372.5 359.12h4M372.5 344.07h2M372.5 329.01h4M372.5 313.95h2M372.5 298.89h4M372.5 283.83h2M372.5 268.78h4M372.5 253.72h2M372.5 238.66h4M372.5 223.6h2" stroke="#2a2a2a" stroke-width="1" fill="none"/>
<path d="M378.3 229.6H397.2M378.3 239.9H397.2" stroke="#666" stroke-width="0.8"/>
<rect x="384.3" y="225.7" width="8.3" height="7.8" fill="#000"/>
<circle cx="388" cy="240.1" r="4.25" fill="#fff" stroke="#111" stroke-width="0.9"/>
<text x="399.9" y="231.9" font-family='"Liberation Serif", serif' font-size="8.5" fill="#111" textLength="41.8" lengthAdjust="spacingAndGlyphs">out-of-plane</text>
<text x="400.3" y="242.4" font-family='"Liberation Serif", serif' font-size="8.5" fill="#111" textLength="26.8" lengthAdjust="spacingAndGlyphs">in-plane</text>
<text x="482" y="429" font-family='"Liberation Serif", serif' font-size="9.4" fill="#111" textLength="82.6" lengthAdjust="spacingAndGlyphs">Magnetic&#160;&#160;Field&#160;&#160;(kA/m)</text>
<text transform="translate(347.8 315.4) rotate(-90)" x="-10.65" y="0" dominant-baseline="central" font-family='"Liberation Serif", serif' font-style="italic" font-size="9.4" fill="#111" textLength="21.3" lengthAdjust="spacingAndGlyphs">M/Ms</text>
<text x="0" y="0" transform="translate(647.6 400) scale(0.92 1)" font-family='"Liberation Serif", serif' font-size="23.0"  fill="#000">d</text>
<polyline points="229.9,604.17 232.94,603.4 235.97,602.47 239,601.52 242.04,600.55 245.07,599.56 248.11,598.55 251.14,597.52 254.17,596.47 257.21,595.4 260.24,594.3 263.28,593.18 266.31,592.04 269.34,590.86 272.38,589.66 275.41,588.43 278.45,587.16 281.48,585.86 284.51,584.52 287.55,583.13 290.58,581.68 293.62,580.19 296.65,578.62 299.68,576.98 302.72,575.25 305.75,573.43 308.79,571.5 311.82,569.44 314.85,567.24 317.89,564.88 320.92,562.28 323.96,559.35 326.99,556.2 330.02,552.8 333.06,549.17 336.09,545.32 339.13,541.27 342.16,537.06 345.19,532.73 348.23,528.28 351.26,522.92 354.3,518.27 357.33,513.94 360.36,509.99 363.4,506.42 366.43,503.19 369.47,500.24 372.5,497.52 375.53,494.99 378.57,492.61 381.6,490.29 384.64,487.97 387.67,485.75 390.7,483.63 393.74,481.6 396.77,479.65 399.81,477.78 402.84,475.98 405.87,474.27 408.91,472.63 411.94,471.06 414.98,469.57 418.01,468.15 421.04,466.79 424.08,465.51 427.11,464.29 430.15,463.14 433.18,462.05 436.21,461.02 439.25,460.05 442.28,459.13 445.32,458.27 448.35,457.46 451.38,456.69 454.42,455.97 457.45,455.3 460.49,454.67 463.52,454.08 466.55,453.52 469.59,453" fill="none" stroke="#777" stroke-width="0.6"/>
<polyline points="229.9,604.17 232.94,603.4 235.97,602.47 239,601.52 242.04,600.55 245.07,599.56 248.11,598.55 251.14,597.52 254.17,596.47 257.21,595.4 260.24,594.3 263.28,593.18 266.31,592.04 269.34,590.86 272.38,589.66 275.41,588.43 278.45,587.16 281.48,585.86 284.51,584.52 287.55,583.13 290.58,581.68 293.62,580.19 296.65,578.62 299.68,576.98 302.72,575.25 305.75,573.43 308.79,571.5 311.82,569.44 314.85,567.24 317.89,564.88 320.92,562.42 323.96,559.92 326.99,557.26 330.02,554.42 333.06,551.4 336.09,548.22 339.13,544.87 342.16,541.38 345.19,537.76 348.23,534.06 351.26,530.08 354.3,524.85 357.33,519.36 360.36,514.27 363.4,509.68 366.43,505.6 369.47,501.95 372.5,498.66 375.53,495.65 378.57,492.85 381.6,490.29 384.64,487.97 387.67,485.75 390.7,483.63 393.74,481.6 396.77,479.65 399.81,477.78 402.84,475.98 405.87,474.27 408.91,472.63 411.94,471.06 414.98,469.57 418.01,468.15 421.04,466.79 424.08,465.51 427.11,464.29 430.15,463.14 433.18,462.05 436.21,461.02 439.25,460.05 442.28,459.13 445.32,458.27 448.35,457.46 451.38,456.69 454.42,455.97 457.45,455.3 460.49,454.67 463.52,454.08 466.55,453.52 469.59,453" fill="none" stroke="#777" stroke-width="0.6"/>
<path d="M227.65 601.92h4.5v4.5h-4.5zM230.69 601.15h4.5v4.5h-4.5zM233.72 600.22h4.5v4.5h-4.5zM236.75 599.27h4.5v4.5h-4.5zM239.79 598.3h4.5v4.5h-4.5zM242.82 597.31h4.5v4.5h-4.5zM245.86 596.3h4.5v4.5h-4.5zM248.89 595.27h4.5v4.5h-4.5zM251.92 594.22h4.5v4.5h-4.5zM254.96 593.15h4.5v4.5h-4.5zM257.99 592.05h4.5v4.5h-4.5zM261.03 590.93h4.5v4.5h-4.5zM264.06 589.79h4.5v4.5h-4.5zM267.09 588.61h4.5v4.5h-4.5zM270.13 587.41h4.5v4.5h-4.5zM273.16 586.18h4.5v4.5h-4.5zM276.2 584.91h4.5v4.5h-4.5zM279.23 583.61h4.5v4.5h-4.5zM282.26 582.27h4.5v4.5h-4.5zM285.3 580.88h4.5v4.5h-4.5zM288.33 579.43h4.5v4.5h-4.5zM291.37 577.94h4.5v4.5h-4.5zM294.4 576.37h4.5v4.5h-4.5zM297.43 574.73h4.5v4.5h-4.5zM300.47 573h4.5v4.5h-4.5zM303.5 571.18h4.5v4.5h-4.5zM306.54 569.25h4.5v4.5h-4.5zM309.57 567.19h4.5v4.5h-4.5zM312.6 564.99h4.5v4.5h-4.5zM315.64 562.63h4.5v4.5h-4.5zM318.67 560.03h4.5v4.5h-4.5zM321.71 557.1h4.5v4.5h-4.5zM324.74 553.95h4.5v4.5h-4.5zM327.77 550.55h4.5v4.5h-4.5zM330.81 546.92h4.5v4.5h-4.5zM333.84 543.07h4.5v4.5h-4.5zM336.88 539.02h4.5v4.5h-4.5zM339.91 534.81h4.5v4.5h-4.5zM342.94 530.48h4.5v4.5h-4.5zM345.98 526.03h4.5v4.5h-4.5zM349.01 520.67h4.5v4.5h-4.5zM352.05 516.02h4.5v4.5h-4.5zM355.08 511.69h4.5v4.5h-4.5zM358.11 507.74h4.5v4.5h-4.5zM361.15 504.17h4.5v4.5h-4.5zM364.18 500.94h4.5v4.5h-4.5zM367.22 497.99h4.5v4.5h-4.5zM370.25 495.27h4.5v4.5h-4.5zM373.28 492.74h4.5v4.5h-4.5zM376.32 490.36h4.5v4.5h-4.5zM379.35 488.04h4.5v4.5h-4.5zM382.39 485.72h4.5v4.5h-4.5zM385.42 483.5h4.5v4.5h-4.5zM388.45 481.38h4.5v4.5h-4.5zM391.49 479.35h4.5v4.5h-4.5zM394.52 477.4h4.5v4.5h-4.5zM397.56 475.53h4.5v4.5h-4.5zM400.59 473.73h4.5v4.5h-4.5zM403.62 472.02h4.5v4.5h-4.5zM406.66 470.38h4.5v4.5h-4.5zM409.69 468.81h4.5v4.5h-4.5zM412.73 467.32h4.5v4.5h-4.5zM415.76 465.9h4.5v4.5h-4.5zM418.79 464.54h4.5v4.5h-4.5zM421.83 463.26h4.5v4.5h-4.5zM424.86 462.04h4.5v4.5h-4.5zM427.9 460.89h4.5v4.5h-4.5zM430.93 459.8h4.5v4.5h-4.5zM433.96 458.77h4.5v4.5h-4.5zM437 457.8h4.5v4.5h-4.5zM440.03 456.88h4.5v4.5h-4.5zM443.07 456.02h4.5v4.5h-4.5zM446.1 455.21h4.5v4.5h-4.5zM449.13 454.44h4.5v4.5h-4.5zM452.17 453.72h4.5v4.5h-4.5zM455.2 453.05h4.5v4.5h-4.5zM458.24 452.42h4.5v4.5h-4.5zM461.27 451.83h4.5v4.5h-4.5zM464.3 451.27h4.5v4.5h-4.5zM467.34 450.75h4.5v4.5h-4.5zM227.65 601.92h4.5v4.5h-4.5zM230.69 601.15h4.5v4.5h-4.5zM233.72 600.22h4.5v4.5h-4.5zM236.75 599.27h4.5v4.5h-4.5zM239.79 598.3h4.5v4.5h-4.5zM242.82 597.31h4.5v4.5h-4.5zM245.86 596.3h4.5v4.5h-4.5zM248.89 595.27h4.5v4.5h-4.5zM251.92 594.22h4.5v4.5h-4.5zM254.96 593.15h4.5v4.5h-4.5zM257.99 592.05h4.5v4.5h-4.5zM261.03 590.93h4.5v4.5h-4.5zM264.06 589.79h4.5v4.5h-4.5zM267.09 588.61h4.5v4.5h-4.5zM270.13 587.41h4.5v4.5h-4.5zM273.16 586.18h4.5v4.5h-4.5zM276.2 584.91h4.5v4.5h-4.5zM279.23 583.61h4.5v4.5h-4.5zM282.26 582.27h4.5v4.5h-4.5zM285.3 580.88h4.5v4.5h-4.5zM288.33 579.43h4.5v4.5h-4.5zM291.37 577.94h4.5v4.5h-4.5zM294.4 576.37h4.5v4.5h-4.5zM297.43 574.73h4.5v4.5h-4.5zM300.47 573h4.5v4.5h-4.5zM303.5 571.18h4.5v4.5h-4.5zM306.54 569.25h4.5v4.5h-4.5zM309.57 567.19h4.5v4.5h-4.5zM312.6 564.99h4.5v4.5h-4.5zM315.64 562.63h4.5v4.5h-4.5zM318.67 560.17h4.5v4.5h-4.5zM321.71 557.67h4.5v4.5h-4.5zM324.74 555.01h4.5v4.5h-4.5zM327.77 552.17h4.5v4.5h-4.5zM330.81 549.15h4.5v4.5h-4.5zM333.84 545.97h4.5v4.5h-4.5zM336.88 542.62h4.5v4.5h-4.5zM339.91 539.13h4.5v4.5h-4.5zM342.94 535.51h4.5v4.5h-4.5zM345.98 531.81h4.5v4.5h-4.5zM349.01 527.83h4.5v4.5h-4.5zM352.05 522.6h4.5v4.5h-4.5zM355.08 517.11h4.5v4.5h-4.5zM358.11 512.02h4.5v4.5h-4.5zM361.15 507.43h4.5v4.5h-4.5zM364.18 503.35h4.5v4.5h-4.5zM367.22 499.7h4.5v4.5h-4.5zM370.25 496.41h4.5v4.5h-4.5zM373.28 493.4h4.5v4.5h-4.5zM376.32 490.6h4.5v4.5h-4.5zM379.35 488.04h4.5v4.5h-4.5zM382.39 485.72h4.5v4.5h-4.5zM385.42 483.5h4.5v4.5h-4.5zM388.45 481.38h4.5v4.5h-4.5zM391.49 479.35h4.5v4.5h-4.5zM394.52 477.4h4.5v4.5h-4.5zM397.56 475.53h4.5v4.5h-4.5zM400.59 473.73h4.5v4.5h-4.5zM403.62 472.02h4.5v4.5h-4.5zM406.66 470.38h4.5v4.5h-4.5zM409.69 468.81h4.5v4.5h-4.5zM412.73 467.32h4.5v4.5h-4.5zM415.76 465.9h4.5v4.5h-4.5zM418.79 464.54h4.5v4.5h-4.5zM421.83 463.26h4.5v4.5h-4.5zM424.86 462.04h4.5v4.5h-4.5zM427.9 460.89h4.5v4.5h-4.5zM430.93 459.8h4.5v4.5h-4.5zM433.96 458.77h4.5v4.5h-4.5zM437 457.8h4.5v4.5h-4.5zM440.03 456.88h4.5v4.5h-4.5zM443.07 456.02h4.5v4.5h-4.5zM446.1 455.21h4.5v4.5h-4.5zM449.13 454.44h4.5v4.5h-4.5zM452.17 453.72h4.5v4.5h-4.5zM455.2 453.05h4.5v4.5h-4.5zM458.24 452.42h4.5v4.5h-4.5zM461.27 451.83h4.5v4.5h-4.5zM464.3 451.27h4.5v4.5h-4.5zM467.34 450.75h4.5v4.5h-4.5z" fill="#000"/>
<polyline points="229.9,604.17 232.94,604.02 235.97,603.81 239,603.58 242.04,603.32 245.07,603.03 248.11,602.71 251.14,602.36 254.17,601.96 257.21,601.52 260.24,601.03 263.28,600.49 266.31,599.9 269.34,599.23 272.38,598.5 275.41,597.69 278.45,596.8 281.48,595.81 284.51,594.73 287.55,593.54 290.58,592.24 293.62,590.82 296.65,589.27 299.68,587.58 302.72,585.75 305.75,583.77 308.79,581.64 311.82,579.35 314.85,576.9 317.89,574.28 320.92,571.44 323.96,568.3 326.99,564.99 330.02,561.48 333.06,557.77 336.09,553.75 339.13,549.25 342.16,543.84 345.19,537.03 348.23,528.89 351.26,522.06 354.3,516.17 357.33,510.8 360.36,505.97 363.4,501.62 366.43,497.67 369.47,494.04 372.5,490.68 375.53,487.54 378.57,484.6 381.6,481.79 384.64,479.05 387.67,476.52 390.7,474.17 393.74,472.01 396.77,470.03 399.81,468.21 402.84,466.55 405.87,465.04 408.91,463.67 411.94,462.43 414.98,461.31 418.01,460.29 421.04,459.38 424.08,458.56 427.11,457.83 430.15,457.17 433.18,456.58 436.21,456.05 439.25,455.58 442.28,455.16 445.32,454.79 448.35,454.45 451.38,454.16 454.42,453.89 457.45,453.66 460.49,453.45 463.52,453.26 466.55,453.09 469.59,452.95" fill="none" stroke="#777" stroke-width="0.6"/>
<polyline points="229.9,604.17 232.94,604.02 235.97,603.81 239,603.58 242.04,603.32 245.07,603.03 248.11,602.71 251.14,602.36 254.17,601.96 257.21,601.52 260.24,601.03 263.28,600.49 266.31,599.9 269.34,599.23 272.38,598.5 275.41,597.69 278.45,596.8 281.48,595.81 284.51,594.73 287.55,593.54 290.58,592.24 293.62,590.82 296.65,589.27 299.68,587.58 302.72,585.75 305.75,583.77 308.79,581.64 311.82,579.35 314.85,576.9 317.89,574.28 320.92,571.57 323.96,568.83 326.99,565.96 330.02,562.94 333.06,559.77 336.09,556.41 339.13,552.79 342.16,548.74 345.19,543.96 348.23,538.09 351.26,530.75 354.3,523.3 357.33,516.53 360.36,510.42 363.4,505 366.43,500.19 369.47,495.85 372.5,491.89 375.53,488.24 378.57,484.86 381.6,481.79 384.64,479.05 387.67,476.52 390.7,474.17 393.74,472.01 396.77,470.03 399.81,468.21 402.84,466.55 405.87,465.04 408.91,463.67 411.94,462.43 414.98,461.31 418.01,460.29 421.04,459.38 424.08,458.56 427.11,457.83 430.15,457.17 433.18,456.58 436.21,456.05 439.25,455.58 442.28,455.16 445.32,454.79 448.35,454.45 451.38,454.16 454.42,453.89 457.45,453.66 460.49,453.45 463.52,453.26 466.55,453.09 469.59,452.95" fill="none" stroke="#777" stroke-width="0.6"/>
<g fill="#fff" stroke="#4a4a4a" stroke-width="0.62"><circle cx="229.9" cy="604.17" r="2.45"/><circle cx="232.94" cy="604.02" r="2.45"/><circle cx="235.97" cy="603.81" r="2.45"/><circle cx="239" cy="603.58" r="2.45"/><circle cx="242.04" cy="603.32" r="2.45"/><circle cx="245.07" cy="603.03" r="2.45"/><circle cx="248.11" cy="602.71" r="2.45"/><circle cx="251.14" cy="602.36" r="2.45"/><circle cx="254.17" cy="601.96" r="2.45"/><circle cx="257.21" cy="601.52" r="2.45"/><circle cx="260.24" cy="601.03" r="2.45"/><circle cx="263.28" cy="600.49" r="2.45"/><circle cx="266.31" cy="599.9" r="2.45"/><circle cx="269.34" cy="599.23" r="2.45"/><circle cx="272.38" cy="598.5" r="2.45"/><circle cx="275.41" cy="597.69" r="2.45"/><circle cx="278.45" cy="596.8" r="2.45"/><circle cx="281.48" cy="595.81" r="2.45"/><circle cx="284.51" cy="594.73" r="2.45"/><circle cx="287.55" cy="593.54" r="2.45"/><circle cx="290.58" cy="592.24" r="2.45"/><circle cx="293.62" cy="590.82" r="2.45"/><circle cx="296.65" cy="589.27" r="2.45"/><circle cx="299.68" cy="587.58" r="2.45"/><circle cx="302.72" cy="585.75" r="2.45"/><circle cx="305.75" cy="583.77" r="2.45"/><circle cx="308.79" cy="581.64" r="2.45"/><circle cx="311.82" cy="579.35" r="2.45"/><circle cx="314.85" cy="576.9" r="2.45"/><circle cx="317.89" cy="574.28" r="2.45"/><circle cx="320.92" cy="571.44" r="2.45"/><circle cx="323.96" cy="568.3" r="2.45"/><circle cx="326.99" cy="564.99" r="2.45"/><circle cx="330.02" cy="561.48" r="2.45"/><circle cx="333.06" cy="557.77" r="2.45"/><circle cx="336.09" cy="553.75" r="2.45"/><circle cx="339.13" cy="549.25" r="2.45"/><circle cx="342.16" cy="543.84" r="2.45"/><circle cx="345.19" cy="537.03" r="2.45"/><circle cx="348.23" cy="528.89" r="2.45"/><circle cx="351.26" cy="522.06" r="2.45"/><circle cx="354.3" cy="516.17" r="2.45"/><circle cx="357.33" cy="510.8" r="2.45"/><circle cx="360.36" cy="505.97" r="2.45"/><circle cx="363.4" cy="501.62" r="2.45"/><circle cx="366.43" cy="497.67" r="2.45"/><circle cx="369.47" cy="494.04" r="2.45"/><circle cx="372.5" cy="490.68" r="2.45"/><circle cx="375.53" cy="487.54" r="2.45"/><circle cx="378.57" cy="484.6" r="2.45"/><circle cx="381.6" cy="481.79" r="2.45"/><circle cx="384.64" cy="479.05" r="2.45"/><circle cx="387.67" cy="476.52" r="2.45"/><circle cx="390.7" cy="474.17" r="2.45"/><circle cx="393.74" cy="472.01" r="2.45"/><circle cx="396.77" cy="470.03" r="2.45"/><circle cx="399.81" cy="468.21" r="2.45"/><circle cx="402.84" cy="466.55" r="2.45"/><circle cx="405.87" cy="465.04" r="2.45"/><circle cx="408.91" cy="463.67" r="2.45"/><circle cx="411.94" cy="462.43" r="2.45"/><circle cx="414.98" cy="461.31" r="2.45"/><circle cx="418.01" cy="460.29" r="2.45"/><circle cx="421.04" cy="459.38" r="2.45"/><circle cx="424.08" cy="458.56" r="2.45"/><circle cx="427.11" cy="457.83" r="2.45"/><circle cx="430.15" cy="457.17" r="2.45"/><circle cx="433.18" cy="456.58" r="2.45"/><circle cx="436.21" cy="456.05" r="2.45"/><circle cx="439.25" cy="455.58" r="2.45"/><circle cx="442.28" cy="455.16" r="2.45"/><circle cx="445.32" cy="454.79" r="2.45"/><circle cx="448.35" cy="454.45" r="2.45"/><circle cx="451.38" cy="454.16" r="2.45"/><circle cx="454.42" cy="453.89" r="2.45"/><circle cx="457.45" cy="453.66" r="2.45"/><circle cx="460.49" cy="453.45" r="2.45"/><circle cx="463.52" cy="453.26" r="2.45"/><circle cx="466.55" cy="453.09" r="2.45"/><circle cx="469.59" cy="452.95" r="2.45"/><circle cx="229.9" cy="604.17" r="2.45"/><circle cx="232.94" cy="604.02" r="2.45"/><circle cx="235.97" cy="603.81" r="2.45"/><circle cx="239" cy="603.58" r="2.45"/><circle cx="242.04" cy="603.32" r="2.45"/><circle cx="245.07" cy="603.03" r="2.45"/><circle cx="248.11" cy="602.71" r="2.45"/><circle cx="251.14" cy="602.36" r="2.45"/><circle cx="254.17" cy="601.96" r="2.45"/><circle cx="257.21" cy="601.52" r="2.45"/><circle cx="260.24" cy="601.03" r="2.45"/><circle cx="263.28" cy="600.49" r="2.45"/><circle cx="266.31" cy="599.9" r="2.45"/><circle cx="269.34" cy="599.23" r="2.45"/><circle cx="272.38" cy="598.5" r="2.45"/><circle cx="275.41" cy="597.69" r="2.45"/><circle cx="278.45" cy="596.8" r="2.45"/><circle cx="281.48" cy="595.81" r="2.45"/><circle cx="284.51" cy="594.73" r="2.45"/><circle cx="287.55" cy="593.54" r="2.45"/><circle cx="290.58" cy="592.24" r="2.45"/><circle cx="293.62" cy="590.82" r="2.45"/><circle cx="296.65" cy="589.27" r="2.45"/><circle cx="299.68" cy="587.58" r="2.45"/><circle cx="302.72" cy="585.75" r="2.45"/><circle cx="305.75" cy="583.77" r="2.45"/><circle cx="308.79" cy="581.64" r="2.45"/><circle cx="311.82" cy="579.35" r="2.45"/><circle cx="314.85" cy="576.9" r="2.45"/><circle cx="317.89" cy="574.28" r="2.45"/><circle cx="320.92" cy="571.57" r="2.45"/><circle cx="323.96" cy="568.83" r="2.45"/><circle cx="326.99" cy="565.96" r="2.45"/><circle cx="330.02" cy="562.94" r="2.45"/><circle cx="333.06" cy="559.77" r="2.45"/><circle cx="336.09" cy="556.41" r="2.45"/><circle cx="339.13" cy="552.79" r="2.45"/><circle cx="342.16" cy="548.74" r="2.45"/><circle cx="345.19" cy="543.96" r="2.45"/><circle cx="348.23" cy="538.09" r="2.45"/><circle cx="351.26" cy="530.75" r="2.45"/><circle cx="354.3" cy="523.3" r="2.45"/><circle cx="357.33" cy="516.53" r="2.45"/><circle cx="360.36" cy="510.42" r="2.45"/><circle cx="363.4" cy="505" r="2.45"/><circle cx="366.43" cy="500.19" r="2.45"/><circle cx="369.47" cy="495.85" r="2.45"/><circle cx="372.5" cy="491.89" r="2.45"/><circle cx="375.53" cy="488.24" r="2.45"/><circle cx="378.57" cy="484.86" r="2.45"/><circle cx="381.6" cy="481.79" r="2.45"/><circle cx="384.64" cy="479.05" r="2.45"/><circle cx="387.67" cy="476.52" r="2.45"/><circle cx="390.7" cy="474.17" r="2.45"/><circle cx="393.74" cy="472.01" r="2.45"/><circle cx="396.77" cy="470.03" r="2.45"/><circle cx="399.81" cy="468.21" r="2.45"/><circle cx="402.84" cy="466.55" r="2.45"/><circle cx="405.87" cy="465.04" r="2.45"/><circle cx="408.91" cy="463.67" r="2.45"/><circle cx="411.94" cy="462.43" r="2.45"/><circle cx="414.98" cy="461.31" r="2.45"/><circle cx="418.01" cy="460.29" r="2.45"/><circle cx="421.04" cy="459.38" r="2.45"/><circle cx="424.08" cy="458.56" r="2.45"/><circle cx="427.11" cy="457.83" r="2.45"/><circle cx="430.15" cy="457.17" r="2.45"/><circle cx="433.18" cy="456.58" r="2.45"/><circle cx="436.21" cy="456.05" r="2.45"/><circle cx="439.25" cy="455.58" r="2.45"/><circle cx="442.28" cy="455.16" r="2.45"/><circle cx="445.32" cy="454.79" r="2.45"/><circle cx="448.35" cy="454.45" r="2.45"/><circle cx="451.38" cy="454.16" r="2.45"/><circle cx="454.42" cy="453.89" r="2.45"/><circle cx="457.45" cy="453.66" r="2.45"/><circle cx="460.49" cy="453.45" r="2.45"/><circle cx="463.52" cy="453.26" r="2.45"/><circle cx="466.55" cy="453.09" r="2.45"/><circle cx="469.59" cy="452.95" r="2.45"/></g>
<line x1="198.5" y1="528.5" x2="501.9" y2="528.5" stroke="#3a3a3a" stroke-width="1"/>
<line x1="349.5" y1="437.8" x2="349.5" y2="619.3" stroke="#444" stroke-width="1.1"/>
<line x1="197.9" y1="437.8" x2="502.7" y2="437.8" stroke="#8c8c8c" stroke-width="1.6"/>
<line x1="501.9" y1="437.8" x2="501.9" y2="619.3" stroke="#8c8c8c" stroke-width="1.6"/>
<line x1="198.5" y1="437" x2="198.5" y2="619.8" stroke="#2a2a2a" stroke-width="1.0"/>
<line x1="198" y1="619.3" x2="502.7" y2="619.3" stroke="#2a2a2a" stroke-width="1.0"/>
<text x="0" y="0" text-anchor="middle" font-family='"Liberation Sans", sans-serif' font-size="8.0" fill="#222" transform="translate(198.5 628.86) scale(0.86 1)">-1000</text>
<text x="0" y="0" text-anchor="middle" font-family='"Liberation Sans", sans-serif' font-size="8.0" fill="#222" transform="translate(274.35 628.86) scale(0.86 1)">-500</text>
<text x="0" y="0" text-anchor="middle" font-family='"Liberation Sans", sans-serif' font-size="8.0" fill="#222" transform="translate(350.2 628.86) scale(0.86 1)">0</text>
<text x="0" y="0" text-anchor="middle" font-family='"Liberation Sans", sans-serif' font-size="8.0" fill="#222" transform="translate(426.05 628.86) scale(0.86 1)">500</text>
<text x="0" y="0" text-anchor="middle" font-family='"Liberation Sans", sans-serif' font-size="8.0" fill="#222" transform="translate(501.9 628.86) scale(0.86 1)">1000</text>
<text x="0" y="0" text-anchor="end" font-family='"Liberation Sans", sans-serif' font-size="7.2" fill="#222" transform="translate(194.9 606.25) scale(0.98 1)">0.0</text>
<text x="0" y="0" text-anchor="end" font-family='"Liberation Sans", sans-serif' font-size="7.2" fill="#222" transform="translate(194.9 576) scale(0.98 1)">0.2</text>
<text x="0" y="0" text-anchor="end" font-family='"Liberation Sans", sans-serif' font-size="7.2" fill="#222" transform="translate(194.9 545.75) scale(0.98 1)">0.4</text>
<text x="0" y="0" text-anchor="end" font-family='"Liberation Sans", sans-serif' font-size="7.2" fill="#222" transform="translate(194.9 515.5) scale(0.98 1)">0.6</text>
<text x="0" y="0" text-anchor="end" font-family='"Liberation Sans", sans-serif' font-size="7.2" fill="#222" transform="translate(194.9 485.25) scale(0.98 1)">0.8</text>
<text x="0" y="0" text-anchor="end" font-family='"Liberation Sans", sans-serif' font-size="7.2" fill="#222" transform="translate(194.9 455) scale(0.98 1)">1.0</text>
<path d="M236.43 619.3v-2M274.35 619.3v-4M312.27 619.3v-2M350.2 619.3v-4M388.12 619.3v-2M426.05 619.3v-4M463.97 619.3v-2M198.5 604.17h4M198.5 589.05h2M198.5 573.92h4M198.5 558.8h2M198.5 543.67h4M198.5 528.55h2M198.5 513.42h4M198.5 498.3h2M198.5 483.18h4M198.5 468.05h2M198.5 452.93h4M198.5 437.8h2" stroke="#2a2a2a" stroke-width="1" fill="none"/>
<path d="M212.7 446.1H232.5M212.7 456.2H232.5" stroke="#666" stroke-width="0.8"/>
<rect x="218.1" y="442.1" width="8.6" height="7.8" fill="#000"/>
<circle cx="222.75" cy="456.15" r="4.15" fill="#fff" stroke="#111" stroke-width="0.9"/>
<text x="234.7" y="449" font-family='"Liberation Serif", serif' font-size="8.5" fill="#111" textLength="41.4" lengthAdjust="spacingAndGlyphs">out-of-plane</text>
<text x="232.7" y="459" font-family='"Liberation Serif", serif' font-size="8.5" fill="#111" textLength="27.4" lengthAdjust="spacingAndGlyphs">in-plane</text>
<text x="308" y="643.9" font-family='"Liberation Serif", serif' font-size="9.4" fill="#111" textLength="83.3" lengthAdjust="spacingAndGlyphs">Magnetic&#160;&#160;Field&#160;&#160;(kA/m)</text>
<text transform="translate(169.9 524) rotate(-90)" x="-10.15" y="0" dominant-baseline="central" font-family='"Liberation Serif", serif' font-style="italic" font-size="9.4" fill="#111" textLength="20.3" lengthAdjust="spacingAndGlyphs">M/Ms</text>
<text x="0" y="0" transform="translate(475.9 612.6) scale(1 1)" font-family='"Liberation Serif", serif' font-size="22.5"  fill="#000">e</text>
</svg>
</body></html>
